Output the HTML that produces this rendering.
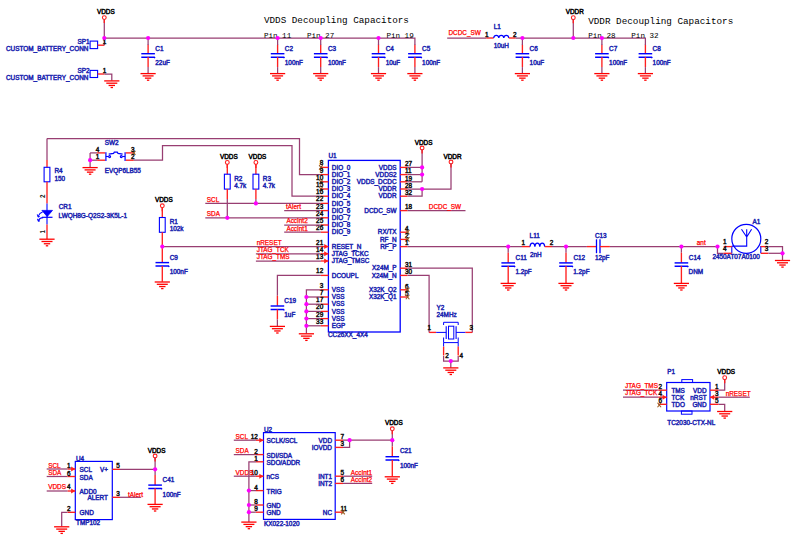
<!DOCTYPE html>
<html><head><meta charset="utf-8"><style>
html,body{margin:0;padding:0;background:#fff;width:795px;height:539px;overflow:hidden}
svg{display:block}
text{font-family:"Liberation Sans", sans-serif}
</style></head><body>
<svg width="795" height="539" viewBox="0 0 795 539">
<rect width="795" height="539" fill="#fff"/>
<circle cx="104.30" cy="17.60" r="1.9" fill="none" stroke="#ff1f1f" stroke-width="1.1"/>
<text x="105.80" y="14.19" fill="#000000" stroke="#000000" stroke-width="0.45" font-size="6.4" text-anchor="middle" font-weight="normal" style='font-family:"Liberation Sans", sans-serif' >VDDS</text>
<polyline points="104.30,19.20 104.30,38.00" fill="none" stroke="#983e72" stroke-width="1.25" stroke-linejoin="miter"/>
<polyline points="104.30,38.00 414.90,38.00 414.90,45.00" fill="none" stroke="#983e72" stroke-width="1.25" stroke-linejoin="miter"/>
<rect x="90.10" y="41.10" width="7.50" height="7.50" fill="none" stroke="#0000ff" stroke-width="1.1"/>
<line x1="97.60" y1="45.20" x2="104.30" y2="45.20" stroke="#ff1f1f" stroke-width="1.35"/>
<polyline points="104.30,45.20 104.30,38.00" fill="none" stroke="#983e72" stroke-width="1.25" stroke-linejoin="miter"/>
<text x="104.60" y="43.99" fill="#111111" stroke="#111111" stroke-width="0.45" font-size="6.4" text-anchor="middle" font-weight="normal" style='font-family:"Liberation Sans", sans-serif' >1</text>
<text x="89.50" y="43.69" fill="#1c26b0" stroke="#1c26b0" stroke-width="0.45" font-size="6.4" text-anchor="end" font-weight="normal" style='font-family:"Liberation Sans", sans-serif' >SP1</text>
<text x="88.40" y="50.89" fill="#1c26b0" stroke="#1c26b0" stroke-width="0.45" font-size="6.4" text-anchor="end" font-weight="normal" style='font-family:"Liberation Sans", sans-serif' >CUSTOM_BATTERY_CONN</text>
<rect x="90.10" y="70.40" width="7.50" height="7.10" fill="none" stroke="#0000ff" stroke-width="1.1"/>
<line x1="97.60" y1="74.00" x2="104.50" y2="74.00" stroke="#ff1f1f" stroke-width="1.35"/>
<polyline points="104.50,74.00 111.80,74.00 111.80,80.70" fill="none" stroke="#983e72" stroke-width="1.25" stroke-linejoin="miter"/>
<line x1="104.20" y1="80.90" x2="119.40" y2="80.90" stroke="#ff0000" stroke-width="1.3"/>
<line x1="106.30" y1="83.20" x2="117.30" y2="83.20" stroke="#ff0000" stroke-width="1.3"/>
<line x1="108.60" y1="85.45" x2="115.00" y2="85.45" stroke="#ff0000" stroke-width="1.3"/>
<line x1="110.60" y1="87.50" x2="113.00" y2="87.50" stroke="#ff0000" stroke-width="1.3"/>
<text x="104.60" y="72.59" fill="#111111" stroke="#111111" stroke-width="0.45" font-size="6.4" text-anchor="middle" font-weight="normal" style='font-family:"Liberation Sans", sans-serif' >1</text>
<text x="89.50" y="72.89" fill="#1c26b0" stroke="#1c26b0" stroke-width="0.45" font-size="6.4" text-anchor="end" font-weight="normal" style='font-family:"Liberation Sans", sans-serif' >SP2</text>
<text x="88.40" y="79.89" fill="#1c26b0" stroke="#1c26b0" stroke-width="0.45" font-size="6.4" text-anchor="end" font-weight="normal" style='font-family:"Liberation Sans", sans-serif' >CUSTOM_BATTERY_CONN</text>
<polyline points="148.10,38.00 148.10,45.00" fill="none" stroke="#983e72" stroke-width="1.25" stroke-linejoin="miter"/>
<polyline points="148.10,44.40 148.10,45.00" fill="none" stroke="#983e72" stroke-width="1.25" stroke-linejoin="miter"/>
<line x1="148.10" y1="45.00" x2="148.10" y2="53.50" stroke="#ff1f1f" stroke-width="1.35"/>
<line x1="141.30" y1="53.70" x2="154.90" y2="53.70" stroke="#0000ff" stroke-width="1.45"/>
<path d="M141.30,57.20 L154.30,57.20 L154.90,58.20" fill="none" stroke="#0000ff" stroke-width="1.45"/>
<line x1="148.10" y1="57.10" x2="148.10" y2="67.10" stroke="#ff1f1f" stroke-width="1.35"/>
<polyline points="148.10,67.10 148.10,73.40" fill="none" stroke="#983e72" stroke-width="1.25" stroke-linejoin="miter"/>
<line x1="140.50" y1="73.60" x2="155.70" y2="73.60" stroke="#ff0000" stroke-width="1.3"/>
<line x1="142.60" y1="75.90" x2="153.60" y2="75.90" stroke="#ff0000" stroke-width="1.3"/>
<line x1="144.90" y1="78.15" x2="151.30" y2="78.15" stroke="#ff0000" stroke-width="1.3"/>
<line x1="146.90" y1="80.20" x2="149.30" y2="80.20" stroke="#ff0000" stroke-width="1.3"/>
<text x="155.30" y="50.69" fill="#1c26b0" stroke="#1c26b0" stroke-width="0.45" font-size="6.4" text-anchor="start" font-weight="normal" style='font-family:"Liberation Sans", sans-serif' >C1</text>
<text x="155.30" y="64.99" fill="#1c26b0" stroke="#1c26b0" stroke-width="0.45" font-size="6.4" text-anchor="start" font-weight="normal" style='font-family:"Liberation Sans", sans-serif' >22uF</text>
<polyline points="277.60,38.00 277.60,45.00" fill="none" stroke="#983e72" stroke-width="1.25" stroke-linejoin="miter"/>
<polyline points="277.60,44.40 277.60,45.00" fill="none" stroke="#983e72" stroke-width="1.25" stroke-linejoin="miter"/>
<line x1="277.60" y1="45.00" x2="277.60" y2="53.50" stroke="#ff1f1f" stroke-width="1.35"/>
<line x1="270.80" y1="53.70" x2="284.40" y2="53.70" stroke="#0000ff" stroke-width="1.45"/>
<path d="M270.80,57.20 L283.80,57.20 L284.40,58.20" fill="none" stroke="#0000ff" stroke-width="1.45"/>
<line x1="277.60" y1="57.10" x2="277.60" y2="67.10" stroke="#ff1f1f" stroke-width="1.35"/>
<polyline points="277.60,67.10 277.60,73.40" fill="none" stroke="#983e72" stroke-width="1.25" stroke-linejoin="miter"/>
<line x1="270.00" y1="73.60" x2="285.20" y2="73.60" stroke="#ff0000" stroke-width="1.3"/>
<line x1="272.10" y1="75.90" x2="283.10" y2="75.90" stroke="#ff0000" stroke-width="1.3"/>
<line x1="274.40" y1="78.15" x2="280.80" y2="78.15" stroke="#ff0000" stroke-width="1.3"/>
<line x1="276.40" y1="80.20" x2="278.80" y2="80.20" stroke="#ff0000" stroke-width="1.3"/>
<text x="284.80" y="50.69" fill="#1c26b0" stroke="#1c26b0" stroke-width="0.45" font-size="6.4" text-anchor="start" font-weight="normal" style='font-family:"Liberation Sans", sans-serif' >C2</text>
<text x="284.80" y="64.99" fill="#1c26b0" stroke="#1c26b0" stroke-width="0.45" font-size="6.4" text-anchor="start" font-weight="normal" style='font-family:"Liberation Sans", sans-serif' >100nF</text>
<polyline points="320.70,38.00 320.70,45.00" fill="none" stroke="#983e72" stroke-width="1.25" stroke-linejoin="miter"/>
<polyline points="320.70,44.40 320.70,45.00" fill="none" stroke="#983e72" stroke-width="1.25" stroke-linejoin="miter"/>
<line x1="320.70" y1="45.00" x2="320.70" y2="53.50" stroke="#ff1f1f" stroke-width="1.35"/>
<line x1="313.90" y1="53.70" x2="327.50" y2="53.70" stroke="#0000ff" stroke-width="1.45"/>
<path d="M313.90,57.20 L326.90,57.20 L327.50,58.20" fill="none" stroke="#0000ff" stroke-width="1.45"/>
<line x1="320.70" y1="57.10" x2="320.70" y2="67.10" stroke="#ff1f1f" stroke-width="1.35"/>
<polyline points="320.70,67.10 320.70,73.40" fill="none" stroke="#983e72" stroke-width="1.25" stroke-linejoin="miter"/>
<line x1="313.10" y1="73.60" x2="328.30" y2="73.60" stroke="#ff0000" stroke-width="1.3"/>
<line x1="315.20" y1="75.90" x2="326.20" y2="75.90" stroke="#ff0000" stroke-width="1.3"/>
<line x1="317.50" y1="78.15" x2="323.90" y2="78.15" stroke="#ff0000" stroke-width="1.3"/>
<line x1="319.50" y1="80.20" x2="321.90" y2="80.20" stroke="#ff0000" stroke-width="1.3"/>
<text x="327.90" y="50.69" fill="#1c26b0" stroke="#1c26b0" stroke-width="0.45" font-size="6.4" text-anchor="start" font-weight="normal" style='font-family:"Liberation Sans", sans-serif' >C3</text>
<text x="327.90" y="64.99" fill="#1c26b0" stroke="#1c26b0" stroke-width="0.45" font-size="6.4" text-anchor="start" font-weight="normal" style='font-family:"Liberation Sans", sans-serif' >100nF</text>
<polyline points="378.50,38.00 378.50,45.00" fill="none" stroke="#983e72" stroke-width="1.25" stroke-linejoin="miter"/>
<polyline points="378.50,44.40 378.50,45.00" fill="none" stroke="#983e72" stroke-width="1.25" stroke-linejoin="miter"/>
<line x1="378.50" y1="45.00" x2="378.50" y2="53.50" stroke="#ff1f1f" stroke-width="1.35"/>
<line x1="371.70" y1="53.70" x2="385.30" y2="53.70" stroke="#0000ff" stroke-width="1.45"/>
<path d="M371.70,57.20 L384.70,57.20 L385.30,58.20" fill="none" stroke="#0000ff" stroke-width="1.45"/>
<line x1="378.50" y1="57.10" x2="378.50" y2="67.10" stroke="#ff1f1f" stroke-width="1.35"/>
<polyline points="378.50,67.10 378.50,73.40" fill="none" stroke="#983e72" stroke-width="1.25" stroke-linejoin="miter"/>
<line x1="370.90" y1="73.60" x2="386.10" y2="73.60" stroke="#ff0000" stroke-width="1.3"/>
<line x1="373.00" y1="75.90" x2="384.00" y2="75.90" stroke="#ff0000" stroke-width="1.3"/>
<line x1="375.30" y1="78.15" x2="381.70" y2="78.15" stroke="#ff0000" stroke-width="1.3"/>
<line x1="377.30" y1="80.20" x2="379.70" y2="80.20" stroke="#ff0000" stroke-width="1.3"/>
<text x="385.70" y="50.69" fill="#1c26b0" stroke="#1c26b0" stroke-width="0.45" font-size="6.4" text-anchor="start" font-weight="normal" style='font-family:"Liberation Sans", sans-serif' >C4</text>
<text x="385.70" y="64.99" fill="#1c26b0" stroke="#1c26b0" stroke-width="0.45" font-size="6.4" text-anchor="start" font-weight="normal" style='font-family:"Liberation Sans", sans-serif' >10uF</text>
<polyline points="414.90,44.40 414.90,45.00" fill="none" stroke="#983e72" stroke-width="1.25" stroke-linejoin="miter"/>
<line x1="414.90" y1="45.00" x2="414.90" y2="53.50" stroke="#ff1f1f" stroke-width="1.35"/>
<line x1="408.10" y1="53.70" x2="421.70" y2="53.70" stroke="#0000ff" stroke-width="1.45"/>
<path d="M408.10,57.20 L421.10,57.20 L421.70,58.20" fill="none" stroke="#0000ff" stroke-width="1.45"/>
<line x1="414.90" y1="57.10" x2="414.90" y2="67.10" stroke="#ff1f1f" stroke-width="1.35"/>
<polyline points="414.90,67.10 414.90,73.40" fill="none" stroke="#983e72" stroke-width="1.25" stroke-linejoin="miter"/>
<line x1="407.30" y1="73.60" x2="422.50" y2="73.60" stroke="#ff0000" stroke-width="1.3"/>
<line x1="409.40" y1="75.90" x2="420.40" y2="75.90" stroke="#ff0000" stroke-width="1.3"/>
<line x1="411.70" y1="78.15" x2="418.10" y2="78.15" stroke="#ff0000" stroke-width="1.3"/>
<line x1="413.70" y1="80.20" x2="416.10" y2="80.20" stroke="#ff0000" stroke-width="1.3"/>
<text x="422.10" y="50.69" fill="#1c26b0" stroke="#1c26b0" stroke-width="0.45" font-size="6.4" text-anchor="start" font-weight="normal" style='font-family:"Liberation Sans", sans-serif' >C5</text>
<text x="422.10" y="64.99" fill="#1c26b0" stroke="#1c26b0" stroke-width="0.45" font-size="6.4" text-anchor="start" font-weight="normal" style='font-family:"Liberation Sans", sans-serif' >100nF</text>
<text x="263.90" y="22.83" fill="#000000" font-size="9.3" text-anchor="start" font-weight="normal" style='font-family:"Liberation Mono", monospace' >VDDS Decoupling Capacitors</text>
<text x="263.90" y="37.82" fill="#000000" font-size="7.6" text-anchor="start" font-weight="normal" style='font-family:"Liberation Mono", monospace' >Pin 11</text>
<text x="306.90" y="37.82" fill="#000000" font-size="7.6" text-anchor="start" font-weight="normal" style='font-family:"Liberation Mono", monospace' >Pin 27</text>
<text x="386.40" y="37.82" fill="#000000" font-size="7.6" text-anchor="start" font-weight="normal" style='font-family:"Liberation Mono", monospace' >Pin 19</text>
<polyline points="447.20,38.00 486.20,38.00" fill="none" stroke="#983e72" stroke-width="1.25" stroke-linejoin="miter"/>
<text x="448.50" y="35.19" fill="#ff0000" stroke="#ff0000" stroke-width="0.25" font-size="6.4" text-anchor="start" font-weight="normal" style='font-family:"Liberation Sans", sans-serif' >DCDC_SW</text>
<line x1="486.20" y1="38.00" x2="493.70" y2="38.00" stroke="#ff1f1f" stroke-width="1.35"/>
<path d="M493.7,38 C494.10,34.4 498.50,34.4 498.80,38 C499.10,34.4 503.50,34.4 503.80,38 C504.10,34.4 508.50,34.4 508.80,38" fill="none" stroke="#0000ff" stroke-width="1.2"/>
<line x1="508.80" y1="38.00" x2="515.70" y2="38.00" stroke="#ff1f1f" stroke-width="1.35"/>
<text x="486.70" y="36.89" fill="#111111" stroke="#111111" stroke-width="0.45" font-size="6.4" text-anchor="middle" font-weight="normal" style='font-family:"Liberation Sans", sans-serif' >1</text>
<text x="514.80" y="36.89" fill="#111111" stroke="#111111" stroke-width="0.45" font-size="6.4" text-anchor="middle" font-weight="normal" style='font-family:"Liberation Sans", sans-serif' >2</text>
<text x="493.70" y="28.99" fill="#1c26b0" stroke="#1c26b0" stroke-width="0.45" font-size="6.4" text-anchor="start" font-weight="normal" style='font-family:"Liberation Sans", sans-serif' >L1</text>
<text x="493.70" y="47.79" fill="#1c26b0" stroke="#1c26b0" stroke-width="0.45" font-size="6.4" text-anchor="start" font-weight="normal" style='font-family:"Liberation Sans", sans-serif' >10uH</text>
<polyline points="515.70,38.00 645.40,38.00 645.40,45.00" fill="none" stroke="#983e72" stroke-width="1.25" stroke-linejoin="miter"/>
<polyline points="522.40,38.00 522.40,45.00" fill="none" stroke="#983e72" stroke-width="1.25" stroke-linejoin="miter"/>
<polyline points="522.40,44.40 522.40,45.00" fill="none" stroke="#983e72" stroke-width="1.25" stroke-linejoin="miter"/>
<line x1="522.40" y1="45.00" x2="522.40" y2="53.50" stroke="#ff1f1f" stroke-width="1.35"/>
<line x1="515.60" y1="53.70" x2="529.20" y2="53.70" stroke="#0000ff" stroke-width="1.45"/>
<path d="M515.60,57.20 L528.60,57.20 L529.20,58.20" fill="none" stroke="#0000ff" stroke-width="1.45"/>
<line x1="522.40" y1="57.10" x2="522.40" y2="67.10" stroke="#ff1f1f" stroke-width="1.35"/>
<polyline points="522.40,67.10 522.40,73.40" fill="none" stroke="#983e72" stroke-width="1.25" stroke-linejoin="miter"/>
<line x1="514.80" y1="73.60" x2="530.00" y2="73.60" stroke="#ff0000" stroke-width="1.3"/>
<line x1="516.90" y1="75.90" x2="527.90" y2="75.90" stroke="#ff0000" stroke-width="1.3"/>
<line x1="519.20" y1="78.15" x2="525.60" y2="78.15" stroke="#ff0000" stroke-width="1.3"/>
<line x1="521.20" y1="80.20" x2="523.60" y2="80.20" stroke="#ff0000" stroke-width="1.3"/>
<text x="529.60" y="50.69" fill="#1c26b0" stroke="#1c26b0" stroke-width="0.45" font-size="6.4" text-anchor="start" font-weight="normal" style='font-family:"Liberation Sans", sans-serif' >C6</text>
<text x="529.60" y="64.99" fill="#1c26b0" stroke="#1c26b0" stroke-width="0.45" font-size="6.4" text-anchor="start" font-weight="normal" style='font-family:"Liberation Sans", sans-serif' >10uF</text>
<polyline points="601.90,38.00 601.90,45.00" fill="none" stroke="#983e72" stroke-width="1.25" stroke-linejoin="miter"/>
<polyline points="601.90,44.40 601.90,45.00" fill="none" stroke="#983e72" stroke-width="1.25" stroke-linejoin="miter"/>
<line x1="601.90" y1="45.00" x2="601.90" y2="53.50" stroke="#ff1f1f" stroke-width="1.35"/>
<line x1="595.10" y1="53.70" x2="608.70" y2="53.70" stroke="#0000ff" stroke-width="1.45"/>
<path d="M595.10,57.20 L608.10,57.20 L608.70,58.20" fill="none" stroke="#0000ff" stroke-width="1.45"/>
<line x1="601.90" y1="57.10" x2="601.90" y2="67.10" stroke="#ff1f1f" stroke-width="1.35"/>
<polyline points="601.90,67.10 601.90,73.40" fill="none" stroke="#983e72" stroke-width="1.25" stroke-linejoin="miter"/>
<line x1="594.30" y1="73.60" x2="609.50" y2="73.60" stroke="#ff0000" stroke-width="1.3"/>
<line x1="596.40" y1="75.90" x2="607.40" y2="75.90" stroke="#ff0000" stroke-width="1.3"/>
<line x1="598.70" y1="78.15" x2="605.10" y2="78.15" stroke="#ff0000" stroke-width="1.3"/>
<line x1="600.70" y1="80.20" x2="603.10" y2="80.20" stroke="#ff0000" stroke-width="1.3"/>
<text x="609.10" y="50.69" fill="#1c26b0" stroke="#1c26b0" stroke-width="0.45" font-size="6.4" text-anchor="start" font-weight="normal" style='font-family:"Liberation Sans", sans-serif' >C7</text>
<text x="609.10" y="64.99" fill="#1c26b0" stroke="#1c26b0" stroke-width="0.45" font-size="6.4" text-anchor="start" font-weight="normal" style='font-family:"Liberation Sans", sans-serif' >100nF</text>
<polyline points="645.40,44.40 645.40,45.00" fill="none" stroke="#983e72" stroke-width="1.25" stroke-linejoin="miter"/>
<line x1="645.40" y1="45.00" x2="645.40" y2="53.50" stroke="#ff1f1f" stroke-width="1.35"/>
<line x1="638.60" y1="53.70" x2="652.20" y2="53.70" stroke="#0000ff" stroke-width="1.45"/>
<path d="M638.60,57.20 L651.60,57.20 L652.20,58.20" fill="none" stroke="#0000ff" stroke-width="1.45"/>
<line x1="645.40" y1="57.10" x2="645.40" y2="67.10" stroke="#ff1f1f" stroke-width="1.35"/>
<polyline points="645.40,67.10 645.40,73.40" fill="none" stroke="#983e72" stroke-width="1.25" stroke-linejoin="miter"/>
<line x1="637.80" y1="73.60" x2="653.00" y2="73.60" stroke="#ff0000" stroke-width="1.3"/>
<line x1="639.90" y1="75.90" x2="650.90" y2="75.90" stroke="#ff0000" stroke-width="1.3"/>
<line x1="642.20" y1="78.15" x2="648.60" y2="78.15" stroke="#ff0000" stroke-width="1.3"/>
<line x1="644.20" y1="80.20" x2="646.60" y2="80.20" stroke="#ff0000" stroke-width="1.3"/>
<text x="652.60" y="50.69" fill="#1c26b0" stroke="#1c26b0" stroke-width="0.45" font-size="6.4" text-anchor="start" font-weight="normal" style='font-family:"Liberation Sans", sans-serif' >C8</text>
<text x="652.60" y="64.99" fill="#1c26b0" stroke="#1c26b0" stroke-width="0.45" font-size="6.4" text-anchor="start" font-weight="normal" style='font-family:"Liberation Sans", sans-serif' >100nF</text>
<circle cx="573.30" cy="17.70" r="1.9" fill="none" stroke="#ff1f1f" stroke-width="1.1"/>
<text x="574.80" y="14.29" fill="#000000" stroke="#000000" stroke-width="0.45" font-size="6.4" text-anchor="middle" font-weight="normal" style='font-family:"Liberation Sans", sans-serif' >VDDR</text>
<polyline points="573.30,19.30 573.30,38.00" fill="none" stroke="#983e72" stroke-width="1.25" stroke-linejoin="miter"/>
<text x="588.20" y="23.53" fill="#000000" font-size="9.3" text-anchor="start" font-weight="normal" style='font-family:"Liberation Mono", monospace' >VDDR Decoupling Capacitors</text>
<text x="588.20" y="37.62" fill="#000000" font-size="7.6" text-anchor="start" font-weight="normal" style='font-family:"Liberation Mono", monospace' >Pin 28</text>
<text x="631.30" y="37.62" fill="#000000" font-size="7.6" text-anchor="start" font-weight="normal" style='font-family:"Liberation Mono", monospace' >Pin 32</text>
<polyline points="47.00,138.60 299.50,138.60 299.50,174.60 320.90,174.60" fill="none" stroke="#983e72" stroke-width="1.25" stroke-linejoin="miter"/>
<polyline points="47.00,138.60 47.00,160.00" fill="none" stroke="#983e72" stroke-width="1.25" stroke-linejoin="miter"/>
<line x1="47.00" y1="160.00" x2="47.00" y2="167.30" stroke="#ff1f1f" stroke-width="1.35"/>
<rect x="44.10" y="167.30" width="5.80" height="14.50" fill="none" stroke="#0000ff" stroke-width="1.1"/>
<line x1="47.00" y1="181.80" x2="47.00" y2="203.50" stroke="#ff1f1f" stroke-width="1.35"/>
<line x1="47.00" y1="203.50" x2="47.00" y2="224.60" stroke="#0000ff" stroke-width="1.1"/>
<path d="M41.9,210.4 L52.5,210.4 L47.2,216.6 Z" fill="#0000ff" stroke="#0000ff" stroke-width="0.8"/>
<line x1="41.90" y1="217.30" x2="52.50" y2="217.30" stroke="#0000ff" stroke-width="1.2"/>
<path d="M42.6,212.0 Q39.5,212.8 38.6,215.6 M43.2,217.6 Q40.0,217.6 38.8,220.0" stroke="#0000ff" stroke-width="1.1" fill="none"/>
<path d="M37.2,214.6 L39.6,216.6 L38.0,217.2 Z M37.4,219.0 L39.8,221.0 L38.2,221.4 Z" fill="#0000ff" stroke="#0000ff" stroke-width="0.7"/>
<line x1="47.00" y1="224.60" x2="47.00" y2="239.00" stroke="#ff1f1f" stroke-width="1.35"/>
<line x1="39.40" y1="239.20" x2="54.60" y2="239.20" stroke="#ff0000" stroke-width="1.3"/>
<line x1="41.50" y1="241.50" x2="52.50" y2="241.50" stroke="#ff0000" stroke-width="1.3"/>
<line x1="43.80" y1="243.75" x2="50.20" y2="243.75" stroke="#ff0000" stroke-width="1.3"/>
<line x1="45.80" y1="245.80" x2="48.20" y2="245.80" stroke="#ff0000" stroke-width="1.3"/>
<text x="54.50" y="172.59" fill="#1c26b0" stroke="#1c26b0" stroke-width="0.45" font-size="6.4" text-anchor="start" font-weight="normal" style='font-family:"Liberation Sans", sans-serif' >R4</text>
<text x="54.50" y="181.39" fill="#1c26b0" stroke="#1c26b0" stroke-width="0.45" font-size="6.4" text-anchor="start" font-weight="normal" style='font-family:"Liberation Sans", sans-serif' >150</text>
<text x="58.70" y="209.49" fill="#1c26b0" stroke="#1c26b0" stroke-width="0.45" font-size="6.4" text-anchor="start" font-weight="normal" style='font-family:"Liberation Sans", sans-serif' >CR1</text>
<text x="58.60" y="218.49" fill="#1c26b0" stroke="#1c26b0" stroke-width="0.45" font-size="6.4" text-anchor="start" font-weight="normal" style='font-family:"Liberation Sans", sans-serif' >LWQH8G-Q2S2-3K5L-1</text>
<text transform="translate(44.8,196.3) rotate(-90)" fill="#111111" font-size="6.4" font-weight="bold" text-anchor="middle" style='font-family:"Liberation Sans", sans-serif'>2</text>
<text transform="translate(44.8,231.8) rotate(-90)" fill="#111111" font-size="6.4" font-weight="bold" text-anchor="middle" style='font-family:"Liberation Sans", sans-serif'>1</text>
<text x="104.70" y="144.79" fill="#1c26b0" stroke="#1c26b0" stroke-width="0.45" font-size="6.4" text-anchor="start" font-weight="normal" style='font-family:"Liberation Sans", sans-serif' >SW2</text>
<polyline points="90.10,152.90 90.10,167.40" fill="none" stroke="#983e72" stroke-width="1.25" stroke-linejoin="miter"/>
<line x1="82.50" y1="167.60" x2="97.70" y2="167.60" stroke="#ff0000" stroke-width="1.3"/>
<line x1="84.60" y1="169.90" x2="95.60" y2="169.90" stroke="#ff0000" stroke-width="1.3"/>
<line x1="86.90" y1="172.15" x2="93.30" y2="172.15" stroke="#ff0000" stroke-width="1.3"/>
<line x1="88.90" y1="174.20" x2="91.30" y2="174.20" stroke="#ff0000" stroke-width="1.3"/>
<polyline points="90.10,152.90 97.10,152.90" fill="none" stroke="#983e72" stroke-width="1.25" stroke-linejoin="miter"/>
<line x1="97.10" y1="152.90" x2="105.20" y2="152.90" stroke="#ff1f1f" stroke-width="1.35"/>
<polyline points="90.10,160.20 97.10,160.20" fill="none" stroke="#983e72" stroke-width="1.25" stroke-linejoin="miter"/>
<line x1="97.10" y1="160.20" x2="105.20" y2="160.20" stroke="#ff1f1f" stroke-width="1.35"/>
<line x1="105.90" y1="152.20" x2="105.90" y2="161.00" stroke="#0000ff" stroke-width="1.2"/>
<line x1="125.10" y1="152.20" x2="125.10" y2="161.00" stroke="#0000ff" stroke-width="1.2"/>
<line x1="105.90" y1="156.50" x2="108.50" y2="156.50" stroke="#0000ff" stroke-width="1.1"/>
<line x1="122.40" y1="156.50" x2="125.10" y2="156.50" stroke="#0000ff" stroke-width="1.1"/>
<circle cx="109.6" cy="156.6" r="1.0" fill="none" stroke="#0000ff" stroke-width="1.1"/>
<circle cx="121.3" cy="156.6" r="1.0" fill="none" stroke="#0000ff" stroke-width="1.1"/>
<path d="M108.7,154.2 L113.6,153.4 L114.3,152.2 L117.3,152.2 L118,153.4 L122.6,154.2" fill="none" stroke="#0000ff" stroke-width="1.2"/>
<line x1="125.80" y1="152.90" x2="133.80" y2="152.90" stroke="#ff1f1f" stroke-width="1.35"/>
<line x1="125.80" y1="160.20" x2="133.80" y2="160.20" stroke="#ff1f1f" stroke-width="1.35"/>
<line x1="132.20" y1="150.90" x2="135.40" y2="154.90" stroke="#9a5a22" stroke-width="1.1"/>
<line x1="132.20" y1="154.90" x2="135.40" y2="150.90" stroke="#9a5a22" stroke-width="1.1"/>
<text x="97.60" y="151.99" fill="#111111" stroke="#111111" stroke-width="0.45" font-size="6.4" text-anchor="middle" font-weight="normal" style='font-family:"Liberation Sans", sans-serif' >4</text>
<text x="97.60" y="158.59" fill="#111111" stroke="#111111" stroke-width="0.45" font-size="6.4" text-anchor="middle" font-weight="normal" style='font-family:"Liberation Sans", sans-serif' >1</text>
<text x="132.80" y="151.99" fill="#111111" stroke="#111111" stroke-width="0.45" font-size="6.4" text-anchor="middle" font-weight="normal" style='font-family:"Liberation Sans", sans-serif' >3</text>
<text x="132.80" y="158.59" fill="#111111" stroke="#111111" stroke-width="0.45" font-size="6.4" text-anchor="middle" font-weight="normal" style='font-family:"Liberation Sans", sans-serif' >2</text>
<text x="104.70" y="172.69" fill="#1c26b0" stroke="#1c26b0" stroke-width="0.45" font-size="6.4" text-anchor="start" font-weight="normal" style='font-family:"Liberation Sans", sans-serif' >EVQP6LB55</text>
<polyline points="133.80,160.20 162.50,160.20 162.50,145.60 292.00,145.60 292.00,196.20 320.90,196.20" fill="none" stroke="#983e72" stroke-width="1.25" stroke-linejoin="miter"/>
<rect x="328.40" y="160.40" width="71.80" height="171.60" fill="none" stroke="#0000ff" stroke-width="1.3"/>
<text x="328.40" y="158.49" fill="#1c26b0" stroke="#1c26b0" stroke-width="0.45" font-size="6.4" text-anchor="start" font-weight="normal" style='font-family:"Liberation Sans", sans-serif' >U1</text>
<text x="328.00" y="337.39" fill="#1c26b0" stroke="#1c26b0" stroke-width="0.45" font-size="6.4" text-anchor="start" font-weight="normal" style='font-family:"Liberation Sans", sans-serif' >CC26XX_4X4</text>
<line x1="320.90" y1="167.40" x2="328.40" y2="167.40" stroke="#ff1f1f" stroke-width="1.35"/>
<text x="323.20" y="165.39" fill="#111111" stroke="#111111" stroke-width="0.45" font-size="6.4" text-anchor="end" font-weight="normal" style='font-family:"Liberation Sans", sans-serif' >8</text>
<text x="331.80" y="169.59" fill="#1c26b0" stroke="#1c26b0" stroke-width="0.45" font-size="6.4" text-anchor="start" font-weight="normal" style='font-family:"Liberation Sans", sans-serif' >DIO_0</text>
<line x1="319.10" y1="165.15" x2="322.70" y2="169.65" stroke="#9a5a22" stroke-width="1.1"/>
<line x1="319.10" y1="169.65" x2="322.70" y2="165.15" stroke="#9a5a22" stroke-width="1.1"/>
<line x1="320.90" y1="174.60" x2="328.40" y2="174.60" stroke="#ff1f1f" stroke-width="1.35"/>
<text x="323.20" y="172.59" fill="#111111" stroke="#111111" stroke-width="0.45" font-size="6.4" text-anchor="end" font-weight="normal" style='font-family:"Liberation Sans", sans-serif' >9</text>
<text x="331.80" y="176.79" fill="#1c26b0" stroke="#1c26b0" stroke-width="0.45" font-size="6.4" text-anchor="start" font-weight="normal" style='font-family:"Liberation Sans", sans-serif' >DIO_1</text>
<line x1="320.90" y1="181.80" x2="328.40" y2="181.80" stroke="#ff1f1f" stroke-width="1.35"/>
<text x="323.20" y="179.79" fill="#111111" stroke="#111111" stroke-width="0.45" font-size="6.4" text-anchor="end" font-weight="normal" style='font-family:"Liberation Sans", sans-serif' >10</text>
<text x="331.80" y="183.99" fill="#1c26b0" stroke="#1c26b0" stroke-width="0.45" font-size="6.4" text-anchor="start" font-weight="normal" style='font-family:"Liberation Sans", sans-serif' >DIO_2</text>
<line x1="319.10" y1="179.55" x2="322.70" y2="184.05" stroke="#9a5a22" stroke-width="1.1"/>
<line x1="319.10" y1="184.05" x2="322.70" y2="179.55" stroke="#9a5a22" stroke-width="1.1"/>
<line x1="320.90" y1="189.00" x2="328.40" y2="189.00" stroke="#ff1f1f" stroke-width="1.35"/>
<text x="323.20" y="186.99" fill="#111111" stroke="#111111" stroke-width="0.45" font-size="6.4" text-anchor="end" font-weight="normal" style='font-family:"Liberation Sans", sans-serif' >15</text>
<text x="331.80" y="191.19" fill="#1c26b0" stroke="#1c26b0" stroke-width="0.45" font-size="6.4" text-anchor="start" font-weight="normal" style='font-family:"Liberation Sans", sans-serif' >DIO_3</text>
<line x1="319.10" y1="186.75" x2="322.70" y2="191.25" stroke="#9a5a22" stroke-width="1.1"/>
<line x1="319.10" y1="191.25" x2="322.70" y2="186.75" stroke="#9a5a22" stroke-width="1.1"/>
<line x1="320.90" y1="196.20" x2="328.40" y2="196.20" stroke="#ff1f1f" stroke-width="1.35"/>
<text x="323.20" y="194.19" fill="#111111" stroke="#111111" stroke-width="0.45" font-size="6.4" text-anchor="end" font-weight="normal" style='font-family:"Liberation Sans", sans-serif' >16</text>
<text x="331.80" y="198.39" fill="#1c26b0" stroke="#1c26b0" stroke-width="0.45" font-size="6.4" text-anchor="start" font-weight="normal" style='font-family:"Liberation Sans", sans-serif' >DIO_4</text>
<line x1="320.90" y1="203.40" x2="328.40" y2="203.40" stroke="#ff1f1f" stroke-width="1.35"/>
<text x="323.20" y="201.39" fill="#111111" stroke="#111111" stroke-width="0.45" font-size="6.4" text-anchor="end" font-weight="normal" style='font-family:"Liberation Sans", sans-serif' >22</text>
<text x="331.80" y="205.59" fill="#1c26b0" stroke="#1c26b0" stroke-width="0.45" font-size="6.4" text-anchor="start" font-weight="normal" style='font-family:"Liberation Sans", sans-serif' >DIO_5</text>
<line x1="320.90" y1="210.60" x2="328.40" y2="210.60" stroke="#ff1f1f" stroke-width="1.35"/>
<text x="323.20" y="208.59" fill="#111111" stroke="#111111" stroke-width="0.45" font-size="6.4" text-anchor="end" font-weight="normal" style='font-family:"Liberation Sans", sans-serif' >23</text>
<text x="331.80" y="212.79" fill="#1c26b0" stroke="#1c26b0" stroke-width="0.45" font-size="6.4" text-anchor="start" font-weight="normal" style='font-family:"Liberation Sans", sans-serif' >DIO_6</text>
<line x1="320.90" y1="217.80" x2="328.40" y2="217.80" stroke="#ff1f1f" stroke-width="1.35"/>
<text x="323.20" y="215.79" fill="#111111" stroke="#111111" stroke-width="0.45" font-size="6.4" text-anchor="end" font-weight="normal" style='font-family:"Liberation Sans", sans-serif' >24</text>
<text x="331.80" y="219.99" fill="#1c26b0" stroke="#1c26b0" stroke-width="0.45" font-size="6.4" text-anchor="start" font-weight="normal" style='font-family:"Liberation Sans", sans-serif' >DIO_7</text>
<line x1="320.90" y1="225.00" x2="328.40" y2="225.00" stroke="#ff1f1f" stroke-width="1.35"/>
<text x="323.20" y="222.99" fill="#111111" stroke="#111111" stroke-width="0.45" font-size="6.4" text-anchor="end" font-weight="normal" style='font-family:"Liberation Sans", sans-serif' >25</text>
<text x="331.80" y="227.19" fill="#1c26b0" stroke="#1c26b0" stroke-width="0.45" font-size="6.4" text-anchor="start" font-weight="normal" style='font-family:"Liberation Sans", sans-serif' >DIO_8</text>
<line x1="320.90" y1="232.20" x2="328.40" y2="232.20" stroke="#ff1f1f" stroke-width="1.35"/>
<text x="323.20" y="230.19" fill="#111111" stroke="#111111" stroke-width="0.45" font-size="6.4" text-anchor="end" font-weight="normal" style='font-family:"Liberation Sans", sans-serif' >26</text>
<text x="331.80" y="234.39" fill="#1c26b0" stroke="#1c26b0" stroke-width="0.45" font-size="6.4" text-anchor="start" font-weight="normal" style='font-family:"Liberation Sans", sans-serif' >DIO_9</text>
<line x1="320.90" y1="246.60" x2="328.40" y2="246.60" stroke="#ff1f1f" stroke-width="1.35"/>
<text x="323.20" y="244.59" fill="#111111" stroke="#111111" stroke-width="0.45" font-size="6.4" text-anchor="end" font-weight="normal" style='font-family:"Liberation Sans", sans-serif' >21</text>
<text x="331.80" y="248.79" fill="#1c26b0" stroke="#1c26b0" stroke-width="0.45" font-size="6.4" text-anchor="start" font-weight="normal" style='font-family:"Liberation Sans", sans-serif' >RESET_N</text>
<line x1="320.90" y1="253.80" x2="328.40" y2="253.80" stroke="#ff1f1f" stroke-width="1.35"/>
<text x="323.20" y="251.79" fill="#111111" stroke="#111111" stroke-width="0.45" font-size="6.4" text-anchor="end" font-weight="normal" style='font-family:"Liberation Sans", sans-serif' >14</text>
<text x="331.80" y="255.99" fill="#1c26b0" stroke="#1c26b0" stroke-width="0.45" font-size="6.4" text-anchor="start" font-weight="normal" style='font-family:"Liberation Sans", sans-serif' >JTAG_TCKC</text>
<line x1="320.90" y1="261.00" x2="328.40" y2="261.00" stroke="#ff1f1f" stroke-width="1.35"/>
<text x="323.20" y="258.99" fill="#111111" stroke="#111111" stroke-width="0.45" font-size="6.4" text-anchor="end" font-weight="normal" style='font-family:"Liberation Sans", sans-serif' >13</text>
<text x="331.80" y="263.19" fill="#1c26b0" stroke="#1c26b0" stroke-width="0.45" font-size="6.4" text-anchor="start" font-weight="normal" style='font-family:"Liberation Sans", sans-serif' >JTAG_TMSC</text>
<line x1="320.90" y1="275.40" x2="328.40" y2="275.40" stroke="#ff1f1f" stroke-width="1.35"/>
<text x="323.20" y="273.39" fill="#111111" stroke="#111111" stroke-width="0.45" font-size="6.4" text-anchor="end" font-weight="normal" style='font-family:"Liberation Sans", sans-serif' >12</text>
<text x="331.80" y="277.59" fill="#1c26b0" stroke="#1c26b0" stroke-width="0.45" font-size="6.4" text-anchor="start" font-weight="normal" style='font-family:"Liberation Sans", sans-serif' >DCOUPL</text>
<line x1="320.90" y1="289.80" x2="328.40" y2="289.80" stroke="#ff1f1f" stroke-width="1.35"/>
<text x="323.20" y="287.79" fill="#111111" stroke="#111111" stroke-width="0.45" font-size="6.4" text-anchor="end" font-weight="normal" style='font-family:"Liberation Sans", sans-serif' >3</text>
<text x="331.80" y="291.99" fill="#1c26b0" stroke="#1c26b0" stroke-width="0.45" font-size="6.4" text-anchor="start" font-weight="normal" style='font-family:"Liberation Sans", sans-serif' >VSS</text>
<line x1="320.90" y1="297.00" x2="328.40" y2="297.00" stroke="#ff1f1f" stroke-width="1.35"/>
<text x="323.20" y="294.99" fill="#111111" stroke="#111111" stroke-width="0.45" font-size="6.4" text-anchor="end" font-weight="normal" style='font-family:"Liberation Sans", sans-serif' >7</text>
<text x="331.80" y="299.19" fill="#1c26b0" stroke="#1c26b0" stroke-width="0.45" font-size="6.4" text-anchor="start" font-weight="normal" style='font-family:"Liberation Sans", sans-serif' >VSS</text>
<line x1="320.90" y1="304.20" x2="328.40" y2="304.20" stroke="#ff1f1f" stroke-width="1.35"/>
<text x="323.20" y="302.19" fill="#111111" stroke="#111111" stroke-width="0.45" font-size="6.4" text-anchor="end" font-weight="normal" style='font-family:"Liberation Sans", sans-serif' >17</text>
<text x="331.80" y="306.39" fill="#1c26b0" stroke="#1c26b0" stroke-width="0.45" font-size="6.4" text-anchor="start" font-weight="normal" style='font-family:"Liberation Sans", sans-serif' >VSS</text>
<line x1="320.90" y1="311.40" x2="328.40" y2="311.40" stroke="#ff1f1f" stroke-width="1.35"/>
<text x="323.20" y="309.39" fill="#111111" stroke="#111111" stroke-width="0.45" font-size="6.4" text-anchor="end" font-weight="normal" style='font-family:"Liberation Sans", sans-serif' >20</text>
<text x="331.80" y="313.59" fill="#1c26b0" stroke="#1c26b0" stroke-width="0.45" font-size="6.4" text-anchor="start" font-weight="normal" style='font-family:"Liberation Sans", sans-serif' >VSS</text>
<line x1="320.90" y1="318.60" x2="328.40" y2="318.60" stroke="#ff1f1f" stroke-width="1.35"/>
<text x="323.20" y="316.59" fill="#111111" stroke="#111111" stroke-width="0.45" font-size="6.4" text-anchor="end" font-weight="normal" style='font-family:"Liberation Sans", sans-serif' >29</text>
<text x="331.80" y="320.79" fill="#1c26b0" stroke="#1c26b0" stroke-width="0.45" font-size="6.4" text-anchor="start" font-weight="normal" style='font-family:"Liberation Sans", sans-serif' >VSS</text>
<line x1="320.90" y1="325.80" x2="328.40" y2="325.80" stroke="#ff1f1f" stroke-width="1.35"/>
<text x="323.20" y="323.79" fill="#111111" stroke="#111111" stroke-width="0.45" font-size="6.4" text-anchor="end" font-weight="normal" style='font-family:"Liberation Sans", sans-serif' >33</text>
<text x="331.80" y="327.99" fill="#1c26b0" stroke="#1c26b0" stroke-width="0.45" font-size="6.4" text-anchor="start" font-weight="normal" style='font-family:"Liberation Sans", sans-serif' >EGP</text>
<path d="M324.20,244.10 L328.40,246.60 L324.20,249.10 Z" fill="#ff1f1f"/>
<path d="M324.20,251.30 L328.40,253.80 L324.20,256.30 Z" fill="#ff1f1f"/>
<path d="M324.20,258.50 L328.40,261.00 L324.20,263.50 Z" fill="#ff1f1f"/>
<line x1="400.20" y1="167.40" x2="407.60" y2="167.40" stroke="#ff1f1f" stroke-width="1.35"/>
<text x="405.00" y="166.19" fill="#111111" stroke="#111111" stroke-width="0.45" font-size="6.4" text-anchor="start" font-weight="normal" style='font-family:"Liberation Sans", sans-serif' >27</text>
<text x="396.60" y="169.59" fill="#1c26b0" stroke="#1c26b0" stroke-width="0.45" font-size="6.4" text-anchor="end" font-weight="normal" style='font-family:"Liberation Sans", sans-serif' >VDDS</text>
<line x1="400.20" y1="174.60" x2="407.60" y2="174.60" stroke="#ff1f1f" stroke-width="1.35"/>
<text x="405.00" y="173.39" fill="#111111" stroke="#111111" stroke-width="0.45" font-size="6.4" text-anchor="start" font-weight="normal" style='font-family:"Liberation Sans", sans-serif' >11</text>
<text x="396.60" y="176.79" fill="#1c26b0" stroke="#1c26b0" stroke-width="0.45" font-size="6.4" text-anchor="end" font-weight="normal" style='font-family:"Liberation Sans", sans-serif' >VDDS2</text>
<line x1="400.20" y1="181.80" x2="407.60" y2="181.80" stroke="#ff1f1f" stroke-width="1.35"/>
<text x="405.00" y="180.59" fill="#111111" stroke="#111111" stroke-width="0.45" font-size="6.4" text-anchor="start" font-weight="normal" style='font-family:"Liberation Sans", sans-serif' >19</text>
<text x="396.60" y="183.99" fill="#1c26b0" stroke="#1c26b0" stroke-width="0.45" font-size="6.4" text-anchor="end" font-weight="normal" style='font-family:"Liberation Sans", sans-serif' >VDDS_DCDC</text>
<line x1="400.20" y1="189.00" x2="407.60" y2="189.00" stroke="#ff1f1f" stroke-width="1.35"/>
<text x="405.00" y="187.79" fill="#111111" stroke="#111111" stroke-width="0.45" font-size="6.4" text-anchor="start" font-weight="normal" style='font-family:"Liberation Sans", sans-serif' >28</text>
<text x="396.60" y="191.19" fill="#1c26b0" stroke="#1c26b0" stroke-width="0.45" font-size="6.4" text-anchor="end" font-weight="normal" style='font-family:"Liberation Sans", sans-serif' >VDDR</text>
<line x1="400.20" y1="196.20" x2="407.60" y2="196.20" stroke="#ff1f1f" stroke-width="1.35"/>
<text x="405.00" y="194.99" fill="#111111" stroke="#111111" stroke-width="0.45" font-size="6.4" text-anchor="start" font-weight="normal" style='font-family:"Liberation Sans", sans-serif' >32</text>
<text x="396.60" y="198.39" fill="#1c26b0" stroke="#1c26b0" stroke-width="0.45" font-size="6.4" text-anchor="end" font-weight="normal" style='font-family:"Liberation Sans", sans-serif' >VDDR</text>
<line x1="400.20" y1="210.60" x2="407.60" y2="210.60" stroke="#ff1f1f" stroke-width="1.35"/>
<text x="405.00" y="209.39" fill="#111111" stroke="#111111" stroke-width="0.45" font-size="6.4" text-anchor="start" font-weight="normal" style='font-family:"Liberation Sans", sans-serif' >18</text>
<text x="396.60" y="212.79" fill="#1c26b0" stroke="#1c26b0" stroke-width="0.45" font-size="6.4" text-anchor="end" font-weight="normal" style='font-family:"Liberation Sans", sans-serif' >DCDC_SW</text>
<line x1="400.20" y1="232.20" x2="407.60" y2="232.20" stroke="#ff1f1f" stroke-width="1.35"/>
<text x="405.00" y="230.99" fill="#111111" stroke="#111111" stroke-width="0.45" font-size="6.4" text-anchor="start" font-weight="normal" style='font-family:"Liberation Sans", sans-serif' >4</text>
<text x="396.60" y="234.39" fill="#1c26b0" stroke="#1c26b0" stroke-width="0.45" font-size="6.4" text-anchor="end" font-weight="normal" style='font-family:"Liberation Sans", sans-serif' >RX/TX</text>
<line x1="405.80" y1="229.95" x2="409.40" y2="234.45" stroke="#9a5a22" stroke-width="1.1"/>
<line x1="405.80" y1="234.45" x2="409.40" y2="229.95" stroke="#9a5a22" stroke-width="1.1"/>
<line x1="400.20" y1="239.40" x2="407.60" y2="239.40" stroke="#ff1f1f" stroke-width="1.35"/>
<text x="405.00" y="238.19" fill="#111111" stroke="#111111" stroke-width="0.45" font-size="6.4" text-anchor="start" font-weight="normal" style='font-family:"Liberation Sans", sans-serif' >2</text>
<text x="396.60" y="241.59" fill="#1c26b0" stroke="#1c26b0" stroke-width="0.45" font-size="6.4" text-anchor="end" font-weight="normal" style='font-family:"Liberation Sans", sans-serif' >RF_N</text>
<line x1="405.80" y1="237.15" x2="409.40" y2="241.65" stroke="#9a5a22" stroke-width="1.1"/>
<line x1="405.80" y1="241.65" x2="409.40" y2="237.15" stroke="#9a5a22" stroke-width="1.1"/>
<line x1="400.20" y1="246.60" x2="407.60" y2="246.60" stroke="#ff1f1f" stroke-width="1.35"/>
<text x="405.00" y="245.39" fill="#111111" stroke="#111111" stroke-width="0.45" font-size="6.4" text-anchor="start" font-weight="normal" style='font-family:"Liberation Sans", sans-serif' >1</text>
<text x="396.60" y="248.79" fill="#1c26b0" stroke="#1c26b0" stroke-width="0.45" font-size="6.4" text-anchor="end" font-weight="normal" style='font-family:"Liberation Sans", sans-serif' >RF_P</text>
<line x1="400.20" y1="268.20" x2="407.60" y2="268.20" stroke="#ff1f1f" stroke-width="1.35"/>
<text x="405.00" y="266.99" fill="#111111" stroke="#111111" stroke-width="0.45" font-size="6.4" text-anchor="start" font-weight="normal" style='font-family:"Liberation Sans", sans-serif' >31</text>
<text x="396.60" y="270.39" fill="#1c26b0" stroke="#1c26b0" stroke-width="0.45" font-size="6.4" text-anchor="end" font-weight="normal" style='font-family:"Liberation Sans", sans-serif' >X24M_P</text>
<line x1="400.20" y1="275.40" x2="407.60" y2="275.40" stroke="#ff1f1f" stroke-width="1.35"/>
<text x="405.00" y="274.19" fill="#111111" stroke="#111111" stroke-width="0.45" font-size="6.4" text-anchor="start" font-weight="normal" style='font-family:"Liberation Sans", sans-serif' >30</text>
<text x="396.60" y="277.59" fill="#1c26b0" stroke="#1c26b0" stroke-width="0.45" font-size="6.4" text-anchor="end" font-weight="normal" style='font-family:"Liberation Sans", sans-serif' >X24M_N</text>
<line x1="400.20" y1="289.80" x2="407.60" y2="289.80" stroke="#ff1f1f" stroke-width="1.35"/>
<text x="405.00" y="288.59" fill="#111111" stroke="#111111" stroke-width="0.45" font-size="6.4" text-anchor="start" font-weight="normal" style='font-family:"Liberation Sans", sans-serif' >6</text>
<text x="396.60" y="291.99" fill="#1c26b0" stroke="#1c26b0" stroke-width="0.45" font-size="6.4" text-anchor="end" font-weight="normal" style='font-family:"Liberation Sans", sans-serif' >X32K_Q2</text>
<line x1="405.80" y1="287.55" x2="409.40" y2="292.05" stroke="#9a5a22" stroke-width="1.1"/>
<line x1="405.80" y1="292.05" x2="409.40" y2="287.55" stroke="#9a5a22" stroke-width="1.1"/>
<line x1="400.20" y1="297.00" x2="407.60" y2="297.00" stroke="#ff1f1f" stroke-width="1.35"/>
<text x="405.00" y="295.79" fill="#111111" stroke="#111111" stroke-width="0.45" font-size="6.4" text-anchor="start" font-weight="normal" style='font-family:"Liberation Sans", sans-serif' >5</text>
<text x="396.60" y="299.19" fill="#1c26b0" stroke="#1c26b0" stroke-width="0.45" font-size="6.4" text-anchor="end" font-weight="normal" style='font-family:"Liberation Sans", sans-serif' >X32K_Q1</text>
<line x1="405.80" y1="294.75" x2="409.40" y2="299.25" stroke="#9a5a22" stroke-width="1.1"/>
<line x1="405.80" y1="299.25" x2="409.40" y2="294.75" stroke="#9a5a22" stroke-width="1.1"/>
<circle cx="422.10" cy="148.00" r="1.9" fill="none" stroke="#ff1f1f" stroke-width="1.1"/>
<text x="423.60" y="144.59" fill="#000000" stroke="#000000" stroke-width="0.45" font-size="6.4" text-anchor="middle" font-weight="normal" style='font-family:"Liberation Sans", sans-serif' >VDDS</text>
<polyline points="422.10,149.60 422.10,181.80" fill="none" stroke="#983e72" stroke-width="1.25" stroke-linejoin="miter"/>
<polyline points="407.60,167.40 422.10,167.40" fill="none" stroke="#983e72" stroke-width="1.25" stroke-linejoin="miter"/>
<polyline points="407.60,174.60 422.10,174.60" fill="none" stroke="#983e72" stroke-width="1.25" stroke-linejoin="miter"/>
<polyline points="407.60,181.80 422.10,181.80" fill="none" stroke="#983e72" stroke-width="1.25" stroke-linejoin="miter"/>
<circle cx="451.00" cy="162.00" r="1.9" fill="none" stroke="#ff1f1f" stroke-width="1.1"/>
<text x="452.50" y="158.59" fill="#000000" stroke="#000000" stroke-width="0.45" font-size="6.4" text-anchor="middle" font-weight="normal" style='font-family:"Liberation Sans", sans-serif' >VDDR</text>
<polyline points="451.00,163.60 451.00,189.00 407.60,189.00" fill="none" stroke="#983e72" stroke-width="1.25" stroke-linejoin="miter"/>
<polyline points="422.10,189.00 422.10,196.20 407.60,196.20" fill="none" stroke="#983e72" stroke-width="1.25" stroke-linejoin="miter"/>
<polyline points="407.60,210.60 465.50,210.60" fill="none" stroke="#983e72" stroke-width="1.25" stroke-linejoin="miter"/>
<text x="428.80" y="208.79" fill="#ff0000" stroke="#ff0000" stroke-width="0.25" font-size="6.4" text-anchor="start" font-weight="normal" style='font-family:"Liberation Sans", sans-serif' >DCDC_SW</text>
<polyline points="205.30,203.40 320.90,203.40" fill="none" stroke="#983e72" stroke-width="1.25" stroke-linejoin="miter"/>
<text x="206.80" y="202.29" fill="#ff0000" stroke="#ff0000" stroke-width="0.25" font-size="6.4" text-anchor="start" font-weight="normal" style='font-family:"Liberation Sans", sans-serif' >SCL</text>
<polyline points="284.20,210.60 320.90,210.60" fill="none" stroke="#983e72" stroke-width="1.25" stroke-linejoin="miter"/>
<text x="286.00" y="208.69" fill="#ff0000" stroke="#ff0000" stroke-width="0.25" font-size="6.4" text-anchor="start" font-weight="normal" style='font-family:"Liberation Sans", sans-serif' >tAlert</text>
<polyline points="205.30,217.80 320.90,217.80" fill="none" stroke="#983e72" stroke-width="1.25" stroke-linejoin="miter"/>
<text x="206.80" y="215.59" fill="#ff0000" stroke="#ff0000" stroke-width="0.25" font-size="6.4" text-anchor="start" font-weight="normal" style='font-family:"Liberation Sans", sans-serif' >SDA</text>
<polyline points="284.20,225.00 320.90,225.00" fill="none" stroke="#983e72" stroke-width="1.25" stroke-linejoin="miter"/>
<text x="286.40" y="223.39" fill="#ff0000" stroke="#ff0000" stroke-width="0.25" font-size="6.4" text-anchor="start" font-weight="normal" style='font-family:"Liberation Sans", sans-serif' >AccInt2</text>
<polyline points="284.20,232.20 320.90,232.20" fill="none" stroke="#983e72" stroke-width="1.25" stroke-linejoin="miter"/>
<text x="286.40" y="230.69" fill="#ff0000" stroke="#ff0000" stroke-width="0.25" font-size="6.4" text-anchor="start" font-weight="normal" style='font-family:"Liberation Sans", sans-serif' >AccInt1</text>
<polyline points="162.30,246.60 320.90,246.60" fill="none" stroke="#983e72" stroke-width="1.25" stroke-linejoin="miter"/>
<text x="256.70" y="244.79" fill="#ff0000" stroke="#ff0000" stroke-width="0.25" font-size="6.4" text-anchor="start" font-weight="normal" style='font-family:"Liberation Sans", sans-serif' >nRESET</text>
<polyline points="255.90,253.80 320.90,253.80" fill="none" stroke="#983e72" stroke-width="1.25" stroke-linejoin="miter"/>
<text x="256.70" y="251.79" fill="#ff0000" stroke="#ff0000" stroke-width="0.25" font-size="6.4" text-anchor="start" font-weight="normal" style='font-family:"Liberation Sans", sans-serif' >JTAG_TCK</text>
<polyline points="255.90,261.00 320.90,261.00" fill="none" stroke="#983e72" stroke-width="1.25" stroke-linejoin="miter"/>
<text x="256.70" y="258.79" fill="#ff0000" stroke="#ff0000" stroke-width="0.25" font-size="6.4" text-anchor="start" font-weight="normal" style='font-family:"Liberation Sans", sans-serif' >JTAG_TMS</text>
<polyline points="320.90,275.40 277.40,275.40 277.40,295.80" fill="none" stroke="#983e72" stroke-width="1.25" stroke-linejoin="miter"/>
<line x1="277.40" y1="295.80" x2="277.40" y2="305.80" stroke="#ff1f1f" stroke-width="1.35"/>
<line x1="270.60" y1="306.00" x2="284.20" y2="306.00" stroke="#0000ff" stroke-width="1.45"/>
<path d="M270.60,309.50 L283.60,309.50 L284.20,310.50" fill="none" stroke="#0000ff" stroke-width="1.45"/>
<line x1="277.40" y1="309.40" x2="277.40" y2="319.40" stroke="#ff1f1f" stroke-width="1.35"/>
<polyline points="277.40,319.40 277.40,326.20" fill="none" stroke="#983e72" stroke-width="1.25" stroke-linejoin="miter"/>
<line x1="269.80" y1="326.40" x2="285.00" y2="326.40" stroke="#ff0000" stroke-width="1.3"/>
<line x1="271.90" y1="328.70" x2="282.90" y2="328.70" stroke="#ff0000" stroke-width="1.3"/>
<line x1="274.20" y1="330.95" x2="280.60" y2="330.95" stroke="#ff0000" stroke-width="1.3"/>
<line x1="276.20" y1="333.00" x2="278.60" y2="333.00" stroke="#ff0000" stroke-width="1.3"/>
<text x="284.30" y="302.69" fill="#1c26b0" stroke="#1c26b0" stroke-width="0.45" font-size="6.4" text-anchor="start" font-weight="normal" style='font-family:"Liberation Sans", sans-serif' >C19</text>
<text x="284.30" y="316.59" fill="#1c26b0" stroke="#1c26b0" stroke-width="0.45" font-size="6.4" text-anchor="start" font-weight="normal" style='font-family:"Liberation Sans", sans-serif' >1uF</text>
<polyline points="320.90,289.80 306.40,289.80 306.40,333.60" fill="none" stroke="#983e72" stroke-width="1.25" stroke-linejoin="miter"/>
<polyline points="320.90,297.00 306.40,297.00" fill="none" stroke="#983e72" stroke-width="1.25" stroke-linejoin="miter"/>
<polyline points="320.90,304.20 306.40,304.20" fill="none" stroke="#983e72" stroke-width="1.25" stroke-linejoin="miter"/>
<polyline points="320.90,311.40 306.40,311.40" fill="none" stroke="#983e72" stroke-width="1.25" stroke-linejoin="miter"/>
<polyline points="320.90,318.60 306.40,318.60" fill="none" stroke="#983e72" stroke-width="1.25" stroke-linejoin="miter"/>
<polyline points="320.90,325.80 306.40,325.80" fill="none" stroke="#983e72" stroke-width="1.25" stroke-linejoin="miter"/>
<line x1="298.80" y1="333.80" x2="314.00" y2="333.80" stroke="#ff0000" stroke-width="1.3"/>
<line x1="300.90" y1="336.10" x2="311.90" y2="336.10" stroke="#ff0000" stroke-width="1.3"/>
<line x1="303.20" y1="338.35" x2="309.60" y2="338.35" stroke="#ff0000" stroke-width="1.3"/>
<line x1="305.20" y1="340.40" x2="307.60" y2="340.40" stroke="#ff0000" stroke-width="1.3"/>
<circle cx="162.30" cy="205.80" r="1.9" fill="none" stroke="#ff1f1f" stroke-width="1.1"/>
<text x="163.80" y="202.39" fill="#000000" stroke="#000000" stroke-width="0.45" font-size="6.4" text-anchor="middle" font-weight="normal" style='font-family:"Liberation Sans", sans-serif' >VDDS</text>
<line x1="162.30" y1="207.40" x2="162.30" y2="217.50" stroke="#ff1f1f" stroke-width="1.35"/>
<rect x="159.40" y="217.50" width="5.80" height="14.80" fill="none" stroke="#0000ff" stroke-width="1.1"/>
<line x1="162.30" y1="232.30" x2="162.30" y2="262.40" stroke="#ff1f1f" stroke-width="1.35"/>
<line x1="155.50" y1="262.60" x2="169.10" y2="262.60" stroke="#0000ff" stroke-width="1.45"/>
<path d="M155.50,266.00 L168.50,266.00 L169.10,267.00" fill="none" stroke="#0000ff" stroke-width="1.45"/>
<line x1="162.30" y1="265.90" x2="162.30" y2="281.80" stroke="#ff1f1f" stroke-width="1.35"/>
<line x1="154.70" y1="282.00" x2="169.90" y2="282.00" stroke="#ff0000" stroke-width="1.3"/>
<line x1="156.80" y1="284.30" x2="167.80" y2="284.30" stroke="#ff0000" stroke-width="1.3"/>
<line x1="159.10" y1="286.55" x2="165.50" y2="286.55" stroke="#ff0000" stroke-width="1.3"/>
<line x1="161.10" y1="288.60" x2="163.50" y2="288.60" stroke="#ff0000" stroke-width="1.3"/>
<text x="169.70" y="224.29" fill="#1c26b0" stroke="#1c26b0" stroke-width="0.45" font-size="6.4" text-anchor="start" font-weight="normal" style='font-family:"Liberation Sans", sans-serif' >R1</text>
<text x="169.70" y="231.49" fill="#1c26b0" stroke="#1c26b0" stroke-width="0.45" font-size="6.4" text-anchor="start" font-weight="normal" style='font-family:"Liberation Sans", sans-serif' >102k</text>
<text x="169.70" y="260.29" fill="#1c26b0" stroke="#1c26b0" stroke-width="0.45" font-size="6.4" text-anchor="start" font-weight="normal" style='font-family:"Liberation Sans", sans-serif' >C9</text>
<text x="169.70" y="273.99" fill="#1c26b0" stroke="#1c26b0" stroke-width="0.45" font-size="6.4" text-anchor="start" font-weight="normal" style='font-family:"Liberation Sans", sans-serif' >100nF</text>
<circle cx="227.30" cy="162.40" r="1.9" fill="none" stroke="#ff1f1f" stroke-width="1.1"/>
<text x="228.80" y="158.99" fill="#000000" stroke="#000000" stroke-width="0.45" font-size="6.4" text-anchor="middle" font-weight="normal" style='font-family:"Liberation Sans", sans-serif' >VDDS</text>
<line x1="227.30" y1="164.00" x2="227.30" y2="174.20" stroke="#ff1f1f" stroke-width="1.35"/>
<rect x="224.40" y="174.20" width="5.80" height="14.90" fill="none" stroke="#0000ff" stroke-width="1.1"/>
<line x1="227.30" y1="189.10" x2="227.30" y2="199.00" stroke="#ff1f1f" stroke-width="1.35"/>
<text x="234.20" y="180.79" fill="#1c26b0" stroke="#1c26b0" stroke-width="0.45" font-size="6.4" text-anchor="start" font-weight="normal" style='font-family:"Liberation Sans", sans-serif' >R2</text>
<text x="234.20" y="187.69" fill="#1c26b0" stroke="#1c26b0" stroke-width="0.45" font-size="6.4" text-anchor="start" font-weight="normal" style='font-family:"Liberation Sans", sans-serif' >4.7k</text>
<circle cx="255.90" cy="162.40" r="1.9" fill="none" stroke="#ff1f1f" stroke-width="1.1"/>
<text x="257.40" y="158.99" fill="#000000" stroke="#000000" stroke-width="0.45" font-size="6.4" text-anchor="middle" font-weight="normal" style='font-family:"Liberation Sans", sans-serif' >VDDS</text>
<line x1="255.90" y1="164.00" x2="255.90" y2="174.20" stroke="#ff1f1f" stroke-width="1.35"/>
<rect x="253.00" y="174.20" width="5.80" height="14.90" fill="none" stroke="#0000ff" stroke-width="1.1"/>
<line x1="255.90" y1="189.10" x2="255.90" y2="199.00" stroke="#ff1f1f" stroke-width="1.35"/>
<text x="262.80" y="180.79" fill="#1c26b0" stroke="#1c26b0" stroke-width="0.45" font-size="6.4" text-anchor="start" font-weight="normal" style='font-family:"Liberation Sans", sans-serif' >R3</text>
<text x="262.80" y="187.69" fill="#1c26b0" stroke="#1c26b0" stroke-width="0.45" font-size="6.4" text-anchor="start" font-weight="normal" style='font-family:"Liberation Sans", sans-serif' >4.7k</text>
<polyline points="227.30,199.00 227.30,217.80" fill="none" stroke="#983e72" stroke-width="1.25" stroke-linejoin="miter"/>
<polyline points="255.90,199.00 255.90,203.40" fill="none" stroke="#983e72" stroke-width="1.25" stroke-linejoin="miter"/>
<polyline points="407.60,246.60 522.00,246.60" fill="none" stroke="#983e72" stroke-width="1.25" stroke-linejoin="miter"/>
<line x1="522.00" y1="246.60" x2="530.00" y2="246.60" stroke="#ff1f1f" stroke-width="1.35"/>
<path d="M530.0,246.6 C530.30,242.0 534.60,242.0 534.90,246.6 C535.20,242.0 539.50,242.0 539.80,246.6 C540.10,242.0 544.40,242.0 544.70,246.6" fill="none" stroke="#0000ff" stroke-width="1.2"/>
<line x1="544.70" y1="246.60" x2="552.00" y2="246.60" stroke="#ff1f1f" stroke-width="1.35"/>
<text x="523.30" y="244.99" fill="#111111" stroke="#111111" stroke-width="0.45" font-size="6.4" text-anchor="middle" font-weight="normal" style='font-family:"Liberation Sans", sans-serif' >1</text>
<text x="551.50" y="244.99" fill="#111111" stroke="#111111" stroke-width="0.45" font-size="6.4" text-anchor="middle" font-weight="normal" style='font-family:"Liberation Sans", sans-serif' >2</text>
<text x="529.60" y="238.29" fill="#1c26b0" stroke="#1c26b0" stroke-width="0.45" font-size="6.4" text-anchor="start" font-weight="normal" style='font-family:"Liberation Sans", sans-serif' >L11</text>
<text x="530.00" y="256.79" fill="#1c26b0" stroke="#1c26b0" stroke-width="0.45" font-size="6.4" text-anchor="start" font-weight="normal" style='font-family:"Liberation Sans", sans-serif' >2nH</text>
<polyline points="552.00,246.60 586.90,246.60" fill="none" stroke="#983e72" stroke-width="1.25" stroke-linejoin="miter"/>
<line x1="586.90" y1="246.60" x2="596.50" y2="246.60" stroke="#ff1f1f" stroke-width="1.35"/>
<line x1="596.50" y1="239.30" x2="596.50" y2="253.20" stroke="#0000ff" stroke-width="1.3"/>
<line x1="600.00" y1="239.30" x2="600.00" y2="253.20" stroke="#0000ff" stroke-width="1.3"/>
<line x1="600.00" y1="246.60" x2="609.90" y2="246.60" stroke="#ff1f1f" stroke-width="1.35"/>
<polyline points="609.90,246.60 717.50,246.60" fill="none" stroke="#983e72" stroke-width="1.25" stroke-linejoin="miter"/>
<text x="594.90" y="237.59" fill="#1c26b0" stroke="#1c26b0" stroke-width="0.45" font-size="6.4" text-anchor="start" font-weight="normal" style='font-family:"Liberation Sans", sans-serif' >C13</text>
<text x="594.90" y="259.99" fill="#1c26b0" stroke="#1c26b0" stroke-width="0.45" font-size="6.4" text-anchor="start" font-weight="normal" style='font-family:"Liberation Sans", sans-serif' >12pF</text>
<polyline points="508.20,246.60 508.20,252.70" fill="none" stroke="#983e72" stroke-width="1.25" stroke-linejoin="miter"/>
<line x1="508.20" y1="252.70" x2="508.20" y2="262.70" stroke="#ff1f1f" stroke-width="1.35"/>
<line x1="501.40" y1="262.90" x2="515.00" y2="262.90" stroke="#0000ff" stroke-width="1.45"/>
<path d="M501.40,266.20 L514.40,266.20 L515.00,267.20" fill="none" stroke="#0000ff" stroke-width="1.45"/>
<line x1="508.20" y1="266.10" x2="508.20" y2="283.20" stroke="#ff1f1f" stroke-width="1.35"/>
<line x1="500.60" y1="283.40" x2="515.80" y2="283.40" stroke="#ff0000" stroke-width="1.3"/>
<line x1="502.70" y1="285.70" x2="513.70" y2="285.70" stroke="#ff0000" stroke-width="1.3"/>
<line x1="505.00" y1="287.95" x2="511.40" y2="287.95" stroke="#ff0000" stroke-width="1.3"/>
<line x1="507.00" y1="290.00" x2="509.40" y2="290.00" stroke="#ff0000" stroke-width="1.3"/>
<text x="515.60" y="259.79" fill="#1c26b0" stroke="#1c26b0" stroke-width="0.45" font-size="6.4" text-anchor="start" font-weight="normal" style='font-family:"Liberation Sans", sans-serif' >C11</text>
<text x="515.40" y="273.79" fill="#1c26b0" stroke="#1c26b0" stroke-width="0.45" font-size="6.4" text-anchor="start" font-weight="normal" style='font-family:"Liberation Sans", sans-serif' >1.2pF</text>
<polyline points="566.00,246.60 566.00,252.70" fill="none" stroke="#983e72" stroke-width="1.25" stroke-linejoin="miter"/>
<line x1="566.00" y1="252.70" x2="566.00" y2="262.70" stroke="#ff1f1f" stroke-width="1.35"/>
<line x1="559.20" y1="262.90" x2="572.80" y2="262.90" stroke="#0000ff" stroke-width="1.45"/>
<path d="M559.20,266.20 L572.20,266.20 L572.80,267.20" fill="none" stroke="#0000ff" stroke-width="1.45"/>
<line x1="566.00" y1="266.10" x2="566.00" y2="283.20" stroke="#ff1f1f" stroke-width="1.35"/>
<line x1="558.40" y1="283.40" x2="573.60" y2="283.40" stroke="#ff0000" stroke-width="1.3"/>
<line x1="560.50" y1="285.70" x2="571.50" y2="285.70" stroke="#ff0000" stroke-width="1.3"/>
<line x1="562.80" y1="287.95" x2="569.20" y2="287.95" stroke="#ff0000" stroke-width="1.3"/>
<line x1="564.80" y1="290.00" x2="567.20" y2="290.00" stroke="#ff0000" stroke-width="1.3"/>
<text x="573.40" y="259.79" fill="#1c26b0" stroke="#1c26b0" stroke-width="0.45" font-size="6.4" text-anchor="start" font-weight="normal" style='font-family:"Liberation Sans", sans-serif' >C12</text>
<text x="573.20" y="273.79" fill="#1c26b0" stroke="#1c26b0" stroke-width="0.45" font-size="6.4" text-anchor="start" font-weight="normal" style='font-family:"Liberation Sans", sans-serif' >1.2pF</text>
<polyline points="681.40,246.60 681.40,252.70" fill="none" stroke="#983e72" stroke-width="1.25" stroke-linejoin="miter"/>
<line x1="681.40" y1="252.70" x2="681.40" y2="262.70" stroke="#ff1f1f" stroke-width="1.35"/>
<line x1="674.60" y1="262.90" x2="688.20" y2="262.90" stroke="#0000ff" stroke-width="1.45"/>
<path d="M674.60,266.20 L687.60,266.20 L688.20,267.20" fill="none" stroke="#0000ff" stroke-width="1.45"/>
<line x1="681.40" y1="266.10" x2="681.40" y2="283.20" stroke="#ff1f1f" stroke-width="1.35"/>
<line x1="673.80" y1="283.40" x2="689.00" y2="283.40" stroke="#ff0000" stroke-width="1.3"/>
<line x1="675.90" y1="285.70" x2="686.90" y2="285.70" stroke="#ff0000" stroke-width="1.3"/>
<line x1="678.20" y1="287.95" x2="684.60" y2="287.95" stroke="#ff0000" stroke-width="1.3"/>
<line x1="680.20" y1="290.00" x2="682.60" y2="290.00" stroke="#ff0000" stroke-width="1.3"/>
<text x="688.80" y="259.79" fill="#1c26b0" stroke="#1c26b0" stroke-width="0.45" font-size="6.4" text-anchor="start" font-weight="normal" style='font-family:"Liberation Sans", sans-serif' >C14</text>
<text x="688.60" y="273.79" fill="#1c26b0" stroke="#1c26b0" stroke-width="0.45" font-size="6.4" text-anchor="start" font-weight="normal" style='font-family:"Liberation Sans", sans-serif' >DNM</text>
<text x="696.80" y="244.89" fill="#ff0000" stroke="#ff0000" stroke-width="0.25" font-size="6.4" text-anchor="start" font-weight="normal" style='font-family:"Liberation Sans", sans-serif' >ant</text>
<circle cx="746.3" cy="238.8" r="14.5" fill="none" stroke="#0000ff" stroke-width="1.2"/>
<path d="M731.8,246.1 L746.7,246.1 L746.7,229.2 M741.5,229.2 L746.7,237.1 L751.6,229.2" fill="none" stroke="#0000ff" stroke-width="1.1"/>
<line x1="731.80" y1="246.10" x2="731.80" y2="253.30" stroke="#0000ff" stroke-width="1.1"/>
<line x1="760.80" y1="246.10" x2="760.80" y2="253.30" stroke="#0000ff" stroke-width="1.1"/>
<polyline points="717.50,246.60 717.50,253.30 723.70,253.30" fill="none" stroke="#983e72" stroke-width="1.25" stroke-linejoin="miter"/>
<line x1="723.70" y1="246.60" x2="731.80" y2="246.60" stroke="#ff1f1f" stroke-width="1.35"/>
<line x1="723.70" y1="253.30" x2="731.80" y2="253.30" stroke="#ff1f1f" stroke-width="1.35"/>
<line x1="760.80" y1="246.60" x2="768.40" y2="246.60" stroke="#ff1f1f" stroke-width="1.35"/>
<line x1="760.80" y1="253.30" x2="768.40" y2="253.30" stroke="#ff1f1f" stroke-width="1.35"/>
<polyline points="768.40,246.60 782.50,246.60 782.50,260.30" fill="none" stroke="#983e72" stroke-width="1.25" stroke-linejoin="miter"/>
<polyline points="768.40,253.30 782.50,253.30" fill="none" stroke="#983e72" stroke-width="1.25" stroke-linejoin="miter"/>
<line x1="774.90" y1="260.50" x2="790.10" y2="260.50" stroke="#ff0000" stroke-width="1.3"/>
<line x1="777.00" y1="262.80" x2="788.00" y2="262.80" stroke="#ff0000" stroke-width="1.3"/>
<line x1="779.30" y1="265.05" x2="785.70" y2="265.05" stroke="#ff0000" stroke-width="1.3"/>
<line x1="781.30" y1="267.10" x2="783.70" y2="267.10" stroke="#ff0000" stroke-width="1.3"/>
<text x="752.50" y="223.99" fill="#1c26b0" stroke="#1c26b0" stroke-width="0.45" font-size="6.4" text-anchor="start" font-weight="normal" style='font-family:"Liberation Sans", sans-serif' >A1</text>
<text x="712.40" y="259.49" fill="#1c26b0" stroke="#1c26b0" stroke-width="0.45" font-size="6.4" text-anchor="start" font-weight="normal" style='font-family:"Liberation Sans", sans-serif' >2450AT07A0100</text>
<text x="724.70" y="244.49" fill="#111111" stroke="#111111" stroke-width="0.45" font-size="6.4" text-anchor="middle" font-weight="normal" style='font-family:"Liberation Sans", sans-serif' >1</text>
<text x="724.70" y="251.49" fill="#111111" stroke="#111111" stroke-width="0.45" font-size="6.4" text-anchor="middle" font-weight="normal" style='font-family:"Liberation Sans", sans-serif' >4</text>
<text x="766.60" y="244.49" fill="#111111" stroke="#111111" stroke-width="0.45" font-size="6.4" text-anchor="middle" font-weight="normal" style='font-family:"Liberation Sans", sans-serif' >2</text>
<text x="766.60" y="251.49" fill="#111111" stroke="#111111" stroke-width="0.45" font-size="6.4" text-anchor="middle" font-weight="normal" style='font-family:"Liberation Sans", sans-serif' >3</text>
<polyline points="407.60,268.20 472.30,268.20 472.30,332.40" fill="none" stroke="#983e72" stroke-width="1.25" stroke-linejoin="miter"/>
<polyline points="407.60,275.40 429.10,275.40 429.10,332.40" fill="none" stroke="#983e72" stroke-width="1.25" stroke-linejoin="miter"/>
<line x1="429.10" y1="332.40" x2="436.20" y2="332.40" stroke="#ff1f1f" stroke-width="1.35"/>
<line x1="436.20" y1="332.40" x2="446.20" y2="332.40" stroke="#0000ff" stroke-width="1.0"/>
<line x1="465.30" y1="332.40" x2="472.30" y2="332.40" stroke="#ff1f1f" stroke-width="1.35"/>
<line x1="456.10" y1="332.40" x2="465.30" y2="332.40" stroke="#0000ff" stroke-width="1.0"/>
<path d="M443.6,325 L443.6,322.3 L458.2,322.3 L458.2,325" fill="none" stroke="#0000ff" stroke-width="1.0"/>
<path d="M443.6,337.5 L443.6,342.6 L458.2,342.6 L458.2,337.5" fill="none" stroke="#0000ff" stroke-width="1.0"/>
<rect x="448.50" y="326.20" width="5.30" height="12.80" fill="none" stroke="#0000ff" stroke-width="1.0"/>
<line x1="446.20" y1="326.20" x2="446.20" y2="339.00" stroke="#0000ff" stroke-width="1.1"/>
<line x1="456.10" y1="326.20" x2="456.10" y2="339.00" stroke="#0000ff" stroke-width="1.1"/>
<line x1="443.60" y1="342.60" x2="443.60" y2="346.60" stroke="#0000ff" stroke-width="1.0"/>
<line x1="458.20" y1="342.60" x2="458.20" y2="346.60" stroke="#0000ff" stroke-width="1.0"/>
<line x1="443.60" y1="346.60" x2="443.60" y2="355.50" stroke="#ff1f1f" stroke-width="1.35"/>
<line x1="458.20" y1="346.60" x2="458.20" y2="355.50" stroke="#ff1f1f" stroke-width="1.35"/>
<polyline points="443.60,356.00 443.60,361.10 458.20,361.10 458.20,356.00" fill="none" stroke="#983e72" stroke-width="1.25" stroke-linejoin="miter"/>
<polyline points="450.80,361.10 450.80,367.70" fill="none" stroke="#983e72" stroke-width="1.25" stroke-linejoin="miter"/>
<line x1="443.20" y1="367.90" x2="458.40" y2="367.90" stroke="#ff0000" stroke-width="1.3"/>
<line x1="445.30" y1="370.20" x2="456.30" y2="370.20" stroke="#ff0000" stroke-width="1.3"/>
<line x1="447.60" y1="372.45" x2="454.00" y2="372.45" stroke="#ff0000" stroke-width="1.3"/>
<line x1="449.60" y1="374.50" x2="452.00" y2="374.50" stroke="#ff0000" stroke-width="1.3"/>
<text x="436.50" y="310.29" fill="#1c26b0" stroke="#1c26b0" stroke-width="0.45" font-size="6.4" text-anchor="start" font-weight="normal" style='font-family:"Liberation Sans", sans-serif' >Y2</text>
<text x="436.50" y="317.39" fill="#1c26b0" stroke="#1c26b0" stroke-width="0.45" font-size="6.4" text-anchor="start" font-weight="normal" style='font-family:"Liberation Sans", sans-serif' >24MHz</text>
<text x="429.30" y="329.99" fill="#111111" stroke="#111111" stroke-width="0.45" font-size="6.4" text-anchor="middle" font-weight="normal" style='font-family:"Liberation Sans", sans-serif' >1</text>
<text x="471.40" y="329.99" fill="#111111" stroke="#111111" stroke-width="0.45" font-size="6.4" text-anchor="middle" font-weight="normal" style='font-family:"Liberation Sans", sans-serif' >3</text>
<text x="445.20" y="357.79" fill="#111111" stroke="#111111" stroke-width="0.45" font-size="6.4" text-anchor="start" font-weight="normal" style='font-family:"Liberation Sans", sans-serif' >2</text>
<text x="459.60" y="357.79" fill="#111111" stroke="#111111" stroke-width="0.45" font-size="6.4" text-anchor="start" font-weight="normal" style='font-family:"Liberation Sans", sans-serif' >4</text>
<rect x="666.70" y="382.50" width="43.30" height="28.50" fill="none" stroke="#0000ff" stroke-width="1.2"/>
<rect x="681.80" y="379.60" width="10.80" height="2.90" fill="none" stroke="#0000ff" stroke-width="1.0"/>
<rect x="681.40" y="411.00" width="10.60" height="3.20" fill="none" stroke="#0000ff" stroke-width="1.0"/>
<text x="667.30" y="373.99" fill="#1c26b0" stroke="#1c26b0" stroke-width="0.45" font-size="6.4" text-anchor="start" font-weight="normal" style='font-family:"Liberation Sans", sans-serif' >P1</text>
<line x1="658.30" y1="390.20" x2="666.70" y2="390.20" stroke="#ff1f1f" stroke-width="1.35"/>
<text x="660.30" y="388.89" fill="#111111" stroke="#111111" stroke-width="0.45" font-size="6.4" text-anchor="middle" font-weight="normal" style='font-family:"Liberation Sans", sans-serif' >2</text>
<text x="671.40" y="393.19" fill="#1c26b0" stroke="#1c26b0" stroke-width="0.45" font-size="6.4" text-anchor="start" font-weight="normal" style='font-family:"Liberation Sans", sans-serif' >TMS</text>
<line x1="658.30" y1="397.20" x2="666.70" y2="397.20" stroke="#ff1f1f" stroke-width="1.35"/>
<text x="660.30" y="395.89" fill="#111111" stroke="#111111" stroke-width="0.45" font-size="6.4" text-anchor="middle" font-weight="normal" style='font-family:"Liberation Sans", sans-serif' >4</text>
<text x="671.40" y="400.19" fill="#1c26b0" stroke="#1c26b0" stroke-width="0.45" font-size="6.4" text-anchor="start" font-weight="normal" style='font-family:"Liberation Sans", sans-serif' >TCK</text>
<line x1="658.30" y1="404.30" x2="666.70" y2="404.30" stroke="#ff1f1f" stroke-width="1.35"/>
<text x="660.30" y="402.99" fill="#111111" stroke="#111111" stroke-width="0.45" font-size="6.4" text-anchor="middle" font-weight="normal" style='font-family:"Liberation Sans", sans-serif' >6</text>
<text x="671.40" y="407.29" fill="#1c26b0" stroke="#1c26b0" stroke-width="0.45" font-size="6.4" text-anchor="start" font-weight="normal" style='font-family:"Liberation Sans", sans-serif' >TDO</text>
<line x1="657.50" y1="402.75" x2="661.10" y2="407.25" stroke="#9a5a22" stroke-width="1.1"/>
<line x1="657.50" y1="407.25" x2="661.10" y2="402.75" stroke="#9a5a22" stroke-width="1.1"/>
<path d="M662.50,394.70 L666.70,397.20 L662.50,399.70 Z" fill="#ff1f1f"/>
<polyline points="623.00,390.20 658.30,390.20" fill="none" stroke="#983e72" stroke-width="1.25" stroke-linejoin="miter"/>
<polyline points="623.00,397.20 658.30,397.20" fill="none" stroke="#983e72" stroke-width="1.25" stroke-linejoin="miter"/>
<text x="625.00" y="387.79" fill="#ff0000" stroke="#ff0000" stroke-width="0.25" font-size="6.4" text-anchor="start" font-weight="normal" style='font-family:"Liberation Sans", sans-serif' >JTAG_TMS</text>
<text x="625.00" y="394.79" fill="#ff0000" stroke="#ff0000" stroke-width="0.25" font-size="6.4" text-anchor="start" font-weight="normal" style='font-family:"Liberation Sans", sans-serif' >JTAG_TCK</text>
<line x1="710.00" y1="390.20" x2="718.70" y2="390.20" stroke="#ff1f1f" stroke-width="1.35"/>
<text x="716.80" y="388.89" fill="#111111" stroke="#111111" stroke-width="0.45" font-size="6.4" text-anchor="middle" font-weight="normal" style='font-family:"Liberation Sans", sans-serif' >1</text>
<text x="706.60" y="393.19" fill="#1c26b0" stroke="#1c26b0" stroke-width="0.45" font-size="6.4" text-anchor="end" font-weight="normal" style='font-family:"Liberation Sans", sans-serif' >VDD</text>
<line x1="710.00" y1="397.20" x2="718.70" y2="397.20" stroke="#ff1f1f" stroke-width="1.35"/>
<text x="716.80" y="395.89" fill="#111111" stroke="#111111" stroke-width="0.45" font-size="6.4" text-anchor="middle" font-weight="normal" style='font-family:"Liberation Sans", sans-serif' >3</text>
<text x="706.60" y="400.19" fill="#1c26b0" stroke="#1c26b0" stroke-width="0.45" font-size="6.4" text-anchor="end" font-weight="normal" style='font-family:"Liberation Sans", sans-serif' >nRST</text>
<line x1="710.00" y1="404.30" x2="718.70" y2="404.30" stroke="#ff1f1f" stroke-width="1.35"/>
<text x="716.80" y="402.99" fill="#111111" stroke="#111111" stroke-width="0.45" font-size="6.4" text-anchor="middle" font-weight="normal" style='font-family:"Liberation Sans", sans-serif' >5</text>
<text x="706.60" y="407.29" fill="#1c26b0" stroke="#1c26b0" stroke-width="0.45" font-size="6.4" text-anchor="end" font-weight="normal" style='font-family:"Liberation Sans", sans-serif' >GND</text>
<path d="M714.20,394.70 L710.00,397.20 L714.20,399.70 Z" fill="#ff1f1f"/>
<circle cx="724.70" cy="377.70" r="1.9" fill="none" stroke="#ff1f1f" stroke-width="1.1"/>
<text x="726.20" y="374.29" fill="#000000" stroke="#000000" stroke-width="0.45" font-size="6.4" text-anchor="middle" font-weight="normal" style='font-family:"Liberation Sans", sans-serif' >VDDS</text>
<polyline points="724.70,379.30 724.70,390.20 718.70,390.20" fill="none" stroke="#983e72" stroke-width="1.25" stroke-linejoin="miter"/>
<polyline points="718.70,397.20 749.80,397.20" fill="none" stroke="#983e72" stroke-width="1.25" stroke-linejoin="miter"/>
<text x="725.70" y="396.19" fill="#ff0000" stroke="#ff0000" stroke-width="0.25" font-size="6.4" text-anchor="start" font-weight="normal" style='font-family:"Liberation Sans", sans-serif' >nRESET</text>
<polyline points="718.70,404.30 724.70,404.30 724.70,411.30" fill="none" stroke="#983e72" stroke-width="1.25" stroke-linejoin="miter"/>
<line x1="717.10" y1="411.50" x2="732.30" y2="411.50" stroke="#ff0000" stroke-width="1.3"/>
<line x1="719.20" y1="413.80" x2="730.20" y2="413.80" stroke="#ff0000" stroke-width="1.3"/>
<line x1="721.50" y1="416.05" x2="727.90" y2="416.05" stroke="#ff0000" stroke-width="1.3"/>
<line x1="723.50" y1="418.10" x2="725.90" y2="418.10" stroke="#ff0000" stroke-width="1.3"/>
<text x="667.30" y="424.79" fill="#1c26b0" stroke="#1c26b0" stroke-width="0.45" font-size="6.4" text-anchor="start" font-weight="normal" style='font-family:"Liberation Sans", sans-serif' >TC2030-CTX-NL</text>
<rect x="75.30" y="461.40" width="37.00" height="58.20" fill="none" stroke="#0000ff" stroke-width="1.2"/>
<text x="76.00" y="460.79" fill="#1c26b0" stroke="#1c26b0" stroke-width="0.45" font-size="6.4" text-anchor="start" font-weight="normal" style='font-family:"Liberation Sans", sans-serif' >U4</text>
<text x="76.00" y="524.79" fill="#1c26b0" stroke="#1c26b0" stroke-width="0.45" font-size="6.4" text-anchor="start" font-weight="normal" style='font-family:"Liberation Sans", sans-serif' >TMP102</text>
<line x1="67.50" y1="469.00" x2="75.30" y2="469.00" stroke="#ff1f1f" stroke-width="1.35"/>
<text x="68.80" y="468.19" fill="#111111" stroke="#111111" stroke-width="0.45" font-size="6.4" text-anchor="middle" font-weight="normal" style='font-family:"Liberation Sans", sans-serif' >1</text>
<text x="79.60" y="472.29" fill="#1c26b0" stroke="#1c26b0" stroke-width="0.45" font-size="6.4" text-anchor="start" font-weight="normal" style='font-family:"Liberation Sans", sans-serif' >SCL</text>
<line x1="67.50" y1="476.50" x2="75.30" y2="476.50" stroke="#ff1f1f" stroke-width="1.35"/>
<text x="68.80" y="475.69" fill="#111111" stroke="#111111" stroke-width="0.45" font-size="6.4" text-anchor="middle" font-weight="normal" style='font-family:"Liberation Sans", sans-serif' >6</text>
<text x="79.60" y="479.79" fill="#1c26b0" stroke="#1c26b0" stroke-width="0.45" font-size="6.4" text-anchor="start" font-weight="normal" style='font-family:"Liberation Sans", sans-serif' >SDA</text>
<line x1="67.50" y1="491.00" x2="75.30" y2="491.00" stroke="#ff1f1f" stroke-width="1.35"/>
<text x="68.80" y="489.39" fill="#111111" stroke="#111111" stroke-width="0.45" font-size="6.4" text-anchor="middle" font-weight="normal" style='font-family:"Liberation Sans", sans-serif' >4</text>
<text x="79.60" y="494.29" fill="#1c26b0" stroke="#1c26b0" stroke-width="0.45" font-size="6.4" text-anchor="start" font-weight="normal" style='font-family:"Liberation Sans", sans-serif' >ADD0</text>
<line x1="67.50" y1="512.30" x2="75.30" y2="512.30" stroke="#ff1f1f" stroke-width="1.35"/>
<text x="68.80" y="510.69" fill="#111111" stroke="#111111" stroke-width="0.45" font-size="6.4" text-anchor="middle" font-weight="normal" style='font-family:"Liberation Sans", sans-serif' >2</text>
<text x="79.60" y="514.89" fill="#1c26b0" stroke="#1c26b0" stroke-width="0.45" font-size="6.4" text-anchor="start" font-weight="normal" style='font-family:"Liberation Sans", sans-serif' >GND</text>
<path d="M71.10,466.50 L75.30,469.00 L71.10,471.50 Z" fill="#ff1f1f"/>
<path d="M71.10,488.50 L75.30,491.00 L71.10,493.50 Z" fill="#ff1f1f"/>
<polyline points="46.70,469.00 67.50,469.00" fill="none" stroke="#983e72" stroke-width="1.25" stroke-linejoin="miter"/>
<polyline points="46.70,476.50 67.50,476.50" fill="none" stroke="#983e72" stroke-width="1.25" stroke-linejoin="miter"/>
<polyline points="46.70,491.00 67.50,491.00" fill="none" stroke="#983e72" stroke-width="1.25" stroke-linejoin="miter"/>
<text x="48.20" y="467.89" fill="#ff0000" stroke="#ff0000" stroke-width="0.25" font-size="6.4" text-anchor="start" font-weight="normal" style='font-family:"Liberation Sans", sans-serif' >SCL</text>
<text x="48.20" y="475.39" fill="#ff0000" stroke="#ff0000" stroke-width="0.25" font-size="6.4" text-anchor="start" font-weight="normal" style='font-family:"Liberation Sans", sans-serif' >SDA</text>
<text x="48.20" y="488.99" fill="#ff0000" stroke="#ff0000" stroke-width="0.25" font-size="6.4" text-anchor="start" font-weight="normal" style='font-family:"Liberation Sans", sans-serif' >VDDS</text>
<polyline points="67.50,512.30 61.70,512.30 61.70,526.60" fill="none" stroke="#983e72" stroke-width="1.25" stroke-linejoin="miter"/>
<line x1="54.10" y1="526.80" x2="69.30" y2="526.80" stroke="#ff0000" stroke-width="1.3"/>
<line x1="56.20" y1="529.10" x2="67.20" y2="529.10" stroke="#ff0000" stroke-width="1.3"/>
<line x1="58.50" y1="531.35" x2="64.90" y2="531.35" stroke="#ff0000" stroke-width="1.3"/>
<line x1="60.50" y1="533.40" x2="62.90" y2="533.40" stroke="#ff0000" stroke-width="1.3"/>
<line x1="112.30" y1="469.30" x2="120.00" y2="469.30" stroke="#ff1f1f" stroke-width="1.35"/>
<text x="118.00" y="468.29" fill="#111111" stroke="#111111" stroke-width="0.45" font-size="6.4" text-anchor="middle" font-weight="normal" style='font-family:"Liberation Sans", sans-serif' >5</text>
<text x="108.00" y="472.39" fill="#1c26b0" stroke="#1c26b0" stroke-width="0.45" font-size="6.4" text-anchor="end" font-weight="normal" style='font-family:"Liberation Sans", sans-serif' >V+</text>
<line x1="112.30" y1="497.30" x2="120.00" y2="497.30" stroke="#ff1f1f" stroke-width="1.35"/>
<text x="118.00" y="496.29" fill="#111111" stroke="#111111" stroke-width="0.45" font-size="6.4" text-anchor="middle" font-weight="normal" style='font-family:"Liberation Sans", sans-serif' >3</text>
<text x="108.00" y="500.39" fill="#1c26b0" stroke="#1c26b0" stroke-width="0.45" font-size="6.4" text-anchor="end" font-weight="normal" style='font-family:"Liberation Sans", sans-serif' >ALERT</text>
<polyline points="120.00,469.30 155.10,469.30" fill="none" stroke="#983e72" stroke-width="1.25" stroke-linejoin="miter"/>
<circle cx="155.10" cy="456.00" r="1.9" fill="none" stroke="#ff1f1f" stroke-width="1.1"/>
<text x="156.60" y="452.59" fill="#000000" stroke="#000000" stroke-width="0.45" font-size="6.4" text-anchor="middle" font-weight="normal" style='font-family:"Liberation Sans", sans-serif' >VDDS</text>
<polyline points="155.10,457.60 155.10,469.30" fill="none" stroke="#983e72" stroke-width="1.25" stroke-linejoin="miter"/>
<polyline points="155.10,469.30 155.10,474.90" fill="none" stroke="#983e72" stroke-width="1.25" stroke-linejoin="miter"/>
<line x1="155.10" y1="474.90" x2="155.10" y2="484.90" stroke="#ff1f1f" stroke-width="1.35"/>
<line x1="148.30" y1="485.10" x2="161.90" y2="485.10" stroke="#0000ff" stroke-width="1.45"/>
<path d="M148.30,488.40 L161.30,488.40 L161.90,489.40" fill="none" stroke="#0000ff" stroke-width="1.45"/>
<line x1="155.10" y1="488.30" x2="155.10" y2="504.20" stroke="#ff1f1f" stroke-width="1.35"/>
<line x1="147.50" y1="504.40" x2="162.70" y2="504.40" stroke="#ff0000" stroke-width="1.3"/>
<line x1="149.60" y1="506.70" x2="160.60" y2="506.70" stroke="#ff0000" stroke-width="1.3"/>
<line x1="151.90" y1="508.95" x2="158.30" y2="508.95" stroke="#ff0000" stroke-width="1.3"/>
<line x1="153.90" y1="511.00" x2="156.30" y2="511.00" stroke="#ff0000" stroke-width="1.3"/>
<text x="162.60" y="481.99" fill="#1c26b0" stroke="#1c26b0" stroke-width="0.45" font-size="6.4" text-anchor="start" font-weight="normal" style='font-family:"Liberation Sans", sans-serif' >C41</text>
<text x="162.60" y="497.49" fill="#1c26b0" stroke="#1c26b0" stroke-width="0.45" font-size="6.4" text-anchor="start" font-weight="normal" style='font-family:"Liberation Sans", sans-serif' >100nF</text>
<polyline points="120.00,497.30 141.20,497.30" fill="none" stroke="#983e72" stroke-width="1.25" stroke-linejoin="miter"/>
<text x="128.00" y="496.69" fill="#ff0000" stroke="#ff0000" stroke-width="0.25" font-size="6.4" text-anchor="start" font-weight="normal" style='font-family:"Liberation Sans", sans-serif' >tAlert</text>
<rect x="263.50" y="432.60" width="71.70" height="86.80" fill="none" stroke="#0000ff" stroke-width="1.2"/>
<text x="264.00" y="432.39" fill="#1c26b0" stroke="#1c26b0" stroke-width="0.45" font-size="6.4" text-anchor="start" font-weight="normal" style='font-family:"Liberation Sans", sans-serif' >U2</text>
<text x="264.00" y="525.99" fill="#1c26b0" stroke="#1c26b0" stroke-width="0.45" font-size="6.4" text-anchor="start" font-weight="normal" style='font-family:"Liberation Sans", sans-serif' >KX022-1020</text>
<line x1="256.00" y1="440.20" x2="263.50" y2="440.20" stroke="#ff1f1f" stroke-width="1.35"/>
<text x="257.90" y="439.19" fill="#111111" stroke="#111111" stroke-width="0.45" font-size="6.4" text-anchor="end" font-weight="normal" style='font-family:"Liberation Sans", sans-serif' >12</text>
<text x="266.50" y="443.29" fill="#1c26b0" stroke="#1c26b0" stroke-width="0.45" font-size="6.4" text-anchor="start" font-weight="normal" style='font-family:"Liberation Sans", sans-serif' >SCLK/SCL</text>
<line x1="256.00" y1="454.60" x2="263.50" y2="454.60" stroke="#ff1f1f" stroke-width="1.35"/>
<text x="257.90" y="453.59" fill="#111111" stroke="#111111" stroke-width="0.45" font-size="6.4" text-anchor="end" font-weight="normal" style='font-family:"Liberation Sans", sans-serif' >2</text>
<text x="266.50" y="457.69" fill="#1c26b0" stroke="#1c26b0" stroke-width="0.45" font-size="6.4" text-anchor="start" font-weight="normal" style='font-family:"Liberation Sans", sans-serif' >SDI/SDA</text>
<line x1="256.00" y1="461.80" x2="263.50" y2="461.80" stroke="#ff1f1f" stroke-width="1.35"/>
<text x="257.90" y="460.79" fill="#111111" stroke="#111111" stroke-width="0.45" font-size="6.4" text-anchor="end" font-weight="normal" style='font-family:"Liberation Sans", sans-serif' >1</text>
<text x="266.50" y="464.89" fill="#1c26b0" stroke="#1c26b0" stroke-width="0.45" font-size="6.4" text-anchor="start" font-weight="normal" style='font-family:"Liberation Sans", sans-serif' >SDO/ADDR</text>
<line x1="256.00" y1="476.20" x2="263.50" y2="476.20" stroke="#ff1f1f" stroke-width="1.35"/>
<text x="257.90" y="475.19" fill="#111111" stroke="#111111" stroke-width="0.45" font-size="6.4" text-anchor="end" font-weight="normal" style='font-family:"Liberation Sans", sans-serif' >10</text>
<text x="266.50" y="479.29" fill="#1c26b0" stroke="#1c26b0" stroke-width="0.45" font-size="6.4" text-anchor="start" font-weight="normal" style='font-family:"Liberation Sans", sans-serif' >nCS</text>
<line x1="256.00" y1="490.60" x2="263.50" y2="490.60" stroke="#ff1f1f" stroke-width="1.35"/>
<text x="257.90" y="489.59" fill="#111111" stroke="#111111" stroke-width="0.45" font-size="6.4" text-anchor="end" font-weight="normal" style='font-family:"Liberation Sans", sans-serif' >4</text>
<text x="266.50" y="493.69" fill="#1c26b0" stroke="#1c26b0" stroke-width="0.45" font-size="6.4" text-anchor="start" font-weight="normal" style='font-family:"Liberation Sans", sans-serif' >TRIG</text>
<line x1="256.00" y1="505.00" x2="263.50" y2="505.00" stroke="#ff1f1f" stroke-width="1.35"/>
<text x="257.90" y="503.99" fill="#111111" stroke="#111111" stroke-width="0.45" font-size="6.4" text-anchor="end" font-weight="normal" style='font-family:"Liberation Sans", sans-serif' >8</text>
<text x="266.50" y="508.09" fill="#1c26b0" stroke="#1c26b0" stroke-width="0.45" font-size="6.4" text-anchor="start" font-weight="normal" style='font-family:"Liberation Sans", sans-serif' >GND</text>
<line x1="256.00" y1="512.20" x2="263.50" y2="512.20" stroke="#ff1f1f" stroke-width="1.35"/>
<text x="257.90" y="511.19" fill="#111111" stroke="#111111" stroke-width="0.45" font-size="6.4" text-anchor="end" font-weight="normal" style='font-family:"Liberation Sans", sans-serif' >9</text>
<text x="266.50" y="515.29" fill="#1c26b0" stroke="#1c26b0" stroke-width="0.45" font-size="6.4" text-anchor="start" font-weight="normal" style='font-family:"Liberation Sans", sans-serif' >GND</text>
<path d="M259.30,437.70 L263.50,440.20 L259.30,442.70 Z" fill="#ff1f1f"/>
<path d="M259.30,473.70 L263.50,476.20 L259.30,478.70 Z" fill="#ff1f1f"/>
<polyline points="233.80,440.20 256.00,440.20" fill="none" stroke="#983e72" stroke-width="1.25" stroke-linejoin="miter"/>
<polyline points="233.80,454.60 256.00,454.60" fill="none" stroke="#983e72" stroke-width="1.25" stroke-linejoin="miter"/>
<polyline points="233.80,476.20 256.00,476.20" fill="none" stroke="#983e72" stroke-width="1.25" stroke-linejoin="miter"/>
<text x="235.60" y="439.19" fill="#ff0000" stroke="#ff0000" stroke-width="0.25" font-size="6.4" text-anchor="start" font-weight="normal" style='font-family:"Liberation Sans", sans-serif' >SCL</text>
<text x="235.60" y="452.99" fill="#ff0000" stroke="#ff0000" stroke-width="0.25" font-size="6.4" text-anchor="start" font-weight="normal" style='font-family:"Liberation Sans", sans-serif' >SDA</text>
<text x="235.60" y="475.19" fill="#ff0000" stroke="#ff0000" stroke-width="0.25" font-size="6.4" text-anchor="start" font-weight="normal" style='font-family:"Liberation Sans", sans-serif' >VDDS</text>
<polyline points="256.00,461.80 248.90,461.80 248.90,521.90" fill="none" stroke="#983e72" stroke-width="1.25" stroke-linejoin="miter"/>
<polyline points="256.00,490.60 248.90,490.60" fill="none" stroke="#983e72" stroke-width="1.25" stroke-linejoin="miter"/>
<polyline points="256.00,505.00 248.90,505.00" fill="none" stroke="#983e72" stroke-width="1.25" stroke-linejoin="miter"/>
<polyline points="256.00,512.20 248.90,512.20" fill="none" stroke="#983e72" stroke-width="1.25" stroke-linejoin="miter"/>
<line x1="241.30" y1="522.10" x2="256.50" y2="522.10" stroke="#ff0000" stroke-width="1.3"/>
<line x1="243.40" y1="524.40" x2="254.40" y2="524.40" stroke="#ff0000" stroke-width="1.3"/>
<line x1="245.70" y1="526.65" x2="252.10" y2="526.65" stroke="#ff0000" stroke-width="1.3"/>
<line x1="247.70" y1="528.70" x2="250.10" y2="528.70" stroke="#ff0000" stroke-width="1.3"/>
<line x1="335.20" y1="440.20" x2="343.00" y2="440.20" stroke="#ff1f1f" stroke-width="1.35"/>
<text x="340.50" y="439.19" fill="#111111" stroke="#111111" stroke-width="0.45" font-size="6.4" text-anchor="start" font-weight="normal" style='font-family:"Liberation Sans", sans-serif' >7</text>
<text x="332.00" y="443.29" fill="#1c26b0" stroke="#1c26b0" stroke-width="0.45" font-size="6.4" text-anchor="end" font-weight="normal" style='font-family:"Liberation Sans", sans-serif' >VDD</text>
<line x1="335.20" y1="447.40" x2="343.00" y2="447.40" stroke="#ff1f1f" stroke-width="1.35"/>
<text x="340.50" y="446.39" fill="#111111" stroke="#111111" stroke-width="0.45" font-size="6.4" text-anchor="start" font-weight="normal" style='font-family:"Liberation Sans", sans-serif' >3</text>
<text x="332.00" y="450.49" fill="#1c26b0" stroke="#1c26b0" stroke-width="0.45" font-size="6.4" text-anchor="end" font-weight="normal" style='font-family:"Liberation Sans", sans-serif' >IOVDD</text>
<line x1="335.20" y1="476.20" x2="343.00" y2="476.20" stroke="#ff1f1f" stroke-width="1.35"/>
<text x="340.50" y="475.19" fill="#111111" stroke="#111111" stroke-width="0.45" font-size="6.4" text-anchor="start" font-weight="normal" style='font-family:"Liberation Sans", sans-serif' >5</text>
<text x="332.00" y="479.29" fill="#1c26b0" stroke="#1c26b0" stroke-width="0.45" font-size="6.4" text-anchor="end" font-weight="normal" style='font-family:"Liberation Sans", sans-serif' >INT1</text>
<line x1="335.20" y1="483.40" x2="343.00" y2="483.40" stroke="#ff1f1f" stroke-width="1.35"/>
<text x="340.50" y="482.39" fill="#111111" stroke="#111111" stroke-width="0.45" font-size="6.4" text-anchor="start" font-weight="normal" style='font-family:"Liberation Sans", sans-serif' >6</text>
<text x="332.00" y="486.49" fill="#1c26b0" stroke="#1c26b0" stroke-width="0.45" font-size="6.4" text-anchor="end" font-weight="normal" style='font-family:"Liberation Sans", sans-serif' >INT2</text>
<line x1="335.20" y1="512.20" x2="343.00" y2="512.20" stroke="#ff1f1f" stroke-width="1.35"/>
<text x="340.50" y="511.19" fill="#111111" stroke="#111111" stroke-width="0.45" font-size="6.4" text-anchor="start" font-weight="normal" style='font-family:"Liberation Sans", sans-serif' >11</text>
<text x="332.00" y="515.29" fill="#1c26b0" stroke="#1c26b0" stroke-width="0.45" font-size="6.4" text-anchor="end" font-weight="normal" style='font-family:"Liberation Sans", sans-serif' >NC</text>
<line x1="341.20" y1="509.95" x2="344.80" y2="514.45" stroke="#9a5a22" stroke-width="1.1"/>
<line x1="341.20" y1="514.45" x2="344.80" y2="509.95" stroke="#9a5a22" stroke-width="1.1"/>
<polyline points="343.00,440.20 392.30,440.20" fill="none" stroke="#983e72" stroke-width="1.25" stroke-linejoin="miter"/>
<polyline points="343.00,447.40 349.60,447.40 349.60,440.20" fill="none" stroke="#983e72" stroke-width="1.25" stroke-linejoin="miter"/>
<circle cx="392.30" cy="428.80" r="1.9" fill="none" stroke="#ff1f1f" stroke-width="1.1"/>
<text x="393.80" y="425.39" fill="#000000" stroke="#000000" stroke-width="0.45" font-size="6.4" text-anchor="middle" font-weight="normal" style='font-family:"Liberation Sans", sans-serif' >VDDS</text>
<polyline points="392.30,430.40 392.30,440.20" fill="none" stroke="#983e72" stroke-width="1.25" stroke-linejoin="miter"/>
<polyline points="392.30,440.20 392.30,446.50" fill="none" stroke="#983e72" stroke-width="1.25" stroke-linejoin="miter"/>
<line x1="392.30" y1="446.50" x2="392.30" y2="456.50" stroke="#ff1f1f" stroke-width="1.35"/>
<line x1="385.50" y1="456.70" x2="399.10" y2="456.70" stroke="#0000ff" stroke-width="1.45"/>
<path d="M385.50,460.00 L398.50,460.00 L399.10,461.00" fill="none" stroke="#0000ff" stroke-width="1.45"/>
<line x1="392.30" y1="459.90" x2="392.30" y2="476.60" stroke="#ff1f1f" stroke-width="1.35"/>
<line x1="384.70" y1="476.80" x2="399.90" y2="476.80" stroke="#ff0000" stroke-width="1.3"/>
<line x1="386.80" y1="479.10" x2="397.80" y2="479.10" stroke="#ff0000" stroke-width="1.3"/>
<line x1="389.10" y1="481.35" x2="395.50" y2="481.35" stroke="#ff0000" stroke-width="1.3"/>
<line x1="391.10" y1="483.40" x2="393.50" y2="483.40" stroke="#ff0000" stroke-width="1.3"/>
<text x="399.90" y="452.99" fill="#1c26b0" stroke="#1c26b0" stroke-width="0.45" font-size="6.4" text-anchor="start" font-weight="normal" style='font-family:"Liberation Sans", sans-serif' >C21</text>
<text x="399.90" y="468.29" fill="#1c26b0" stroke="#1c26b0" stroke-width="0.45" font-size="6.4" text-anchor="start" font-weight="normal" style='font-family:"Liberation Sans", sans-serif' >100nF</text>
<polyline points="343.00,476.20 372.20,476.20" fill="none" stroke="#983e72" stroke-width="1.25" stroke-linejoin="miter"/>
<polyline points="343.00,483.40 372.20,483.40" fill="none" stroke="#983e72" stroke-width="1.25" stroke-linejoin="miter"/>
<text x="350.80" y="475.19" fill="#ff0000" stroke="#ff0000" stroke-width="0.25" font-size="6.4" text-anchor="start" font-weight="normal" style='font-family:"Liberation Sans", sans-serif' >AccInt1</text>
<text x="350.80" y="482.49" fill="#ff0000" stroke="#ff0000" stroke-width="0.25" font-size="6.4" text-anchor="start" font-weight="normal" style='font-family:"Liberation Sans", sans-serif' >AccInt2</text>
<line x1="104.30" y1="19.50" x2="104.30" y2="23.10" stroke="#ff1f1f" stroke-width="1.35"/>
<line x1="573.30" y1="19.60" x2="573.30" y2="23.20" stroke="#ff1f1f" stroke-width="1.35"/>
<line x1="422.10" y1="149.90" x2="422.10" y2="153.50" stroke="#ff1f1f" stroke-width="1.35"/>
<line x1="451.00" y1="163.90" x2="451.00" y2="167.50" stroke="#ff1f1f" stroke-width="1.35"/>
<line x1="162.30" y1="207.70" x2="162.30" y2="211.30" stroke="#ff1f1f" stroke-width="1.35"/>
<line x1="227.30" y1="164.30" x2="227.30" y2="167.90" stroke="#ff1f1f" stroke-width="1.35"/>
<line x1="255.90" y1="164.30" x2="255.90" y2="167.90" stroke="#ff1f1f" stroke-width="1.35"/>
<line x1="724.70" y1="379.60" x2="724.70" y2="383.20" stroke="#ff1f1f" stroke-width="1.35"/>
<line x1="155.10" y1="457.90" x2="155.10" y2="461.50" stroke="#ff1f1f" stroke-width="1.35"/>
<line x1="392.30" y1="430.70" x2="392.30" y2="434.30" stroke="#ff1f1f" stroke-width="1.35"/>
<circle cx="104.30" cy="38.00" r="2.1" fill="#ff00ff"/>
<circle cx="148.10" cy="38.00" r="2.1" fill="#ff00ff"/>
<circle cx="277.60" cy="38.00" r="2.1" fill="#ff00ff"/>
<circle cx="320.70" cy="38.00" r="2.1" fill="#ff00ff"/>
<circle cx="378.50" cy="38.00" r="2.1" fill="#ff00ff"/>
<circle cx="522.40" cy="38.00" r="2.1" fill="#ff00ff"/>
<circle cx="573.30" cy="38.00" r="2.1" fill="#ff00ff"/>
<circle cx="601.90" cy="38.00" r="2.1" fill="#ff00ff"/>
<circle cx="90.10" cy="160.20" r="2.1" fill="#ff00ff"/>
<circle cx="422.10" cy="167.40" r="2.1" fill="#ff00ff"/>
<circle cx="422.10" cy="174.60" r="2.1" fill="#ff00ff"/>
<circle cx="422.10" cy="189.00" r="2.1" fill="#ff00ff"/>
<circle cx="255.90" cy="203.40" r="2.1" fill="#ff00ff"/>
<circle cx="227.30" cy="217.80" r="2.1" fill="#ff00ff"/>
<circle cx="162.30" cy="246.60" r="2.1" fill="#ff00ff"/>
<circle cx="306.40" cy="297.00" r="2.1" fill="#ff00ff"/>
<circle cx="306.40" cy="304.20" r="2.1" fill="#ff00ff"/>
<circle cx="306.40" cy="311.40" r="2.1" fill="#ff00ff"/>
<circle cx="306.40" cy="318.60" r="2.1" fill="#ff00ff"/>
<circle cx="306.40" cy="325.80" r="2.1" fill="#ff00ff"/>
<circle cx="508.20" cy="246.60" r="2.1" fill="#ff00ff"/>
<circle cx="566.00" cy="246.60" r="2.1" fill="#ff00ff"/>
<circle cx="681.40" cy="246.60" r="2.1" fill="#ff00ff"/>
<circle cx="717.50" cy="246.60" r="2.1" fill="#ff00ff"/>
<circle cx="782.50" cy="253.30" r="2.1" fill="#ff00ff"/>
<circle cx="450.80" cy="361.10" r="2.1" fill="#ff00ff"/>
<circle cx="155.10" cy="469.30" r="2.1" fill="#ff00ff"/>
<circle cx="248.90" cy="490.60" r="2.1" fill="#ff00ff"/>
<circle cx="248.90" cy="505.00" r="2.1" fill="#ff00ff"/>
<circle cx="248.90" cy="512.20" r="2.1" fill="#ff00ff"/>
<circle cx="349.60" cy="440.20" r="2.1" fill="#ff00ff"/>
<circle cx="392.30" cy="440.20" r="2.1" fill="#ff00ff"/>
</svg></body></html>
